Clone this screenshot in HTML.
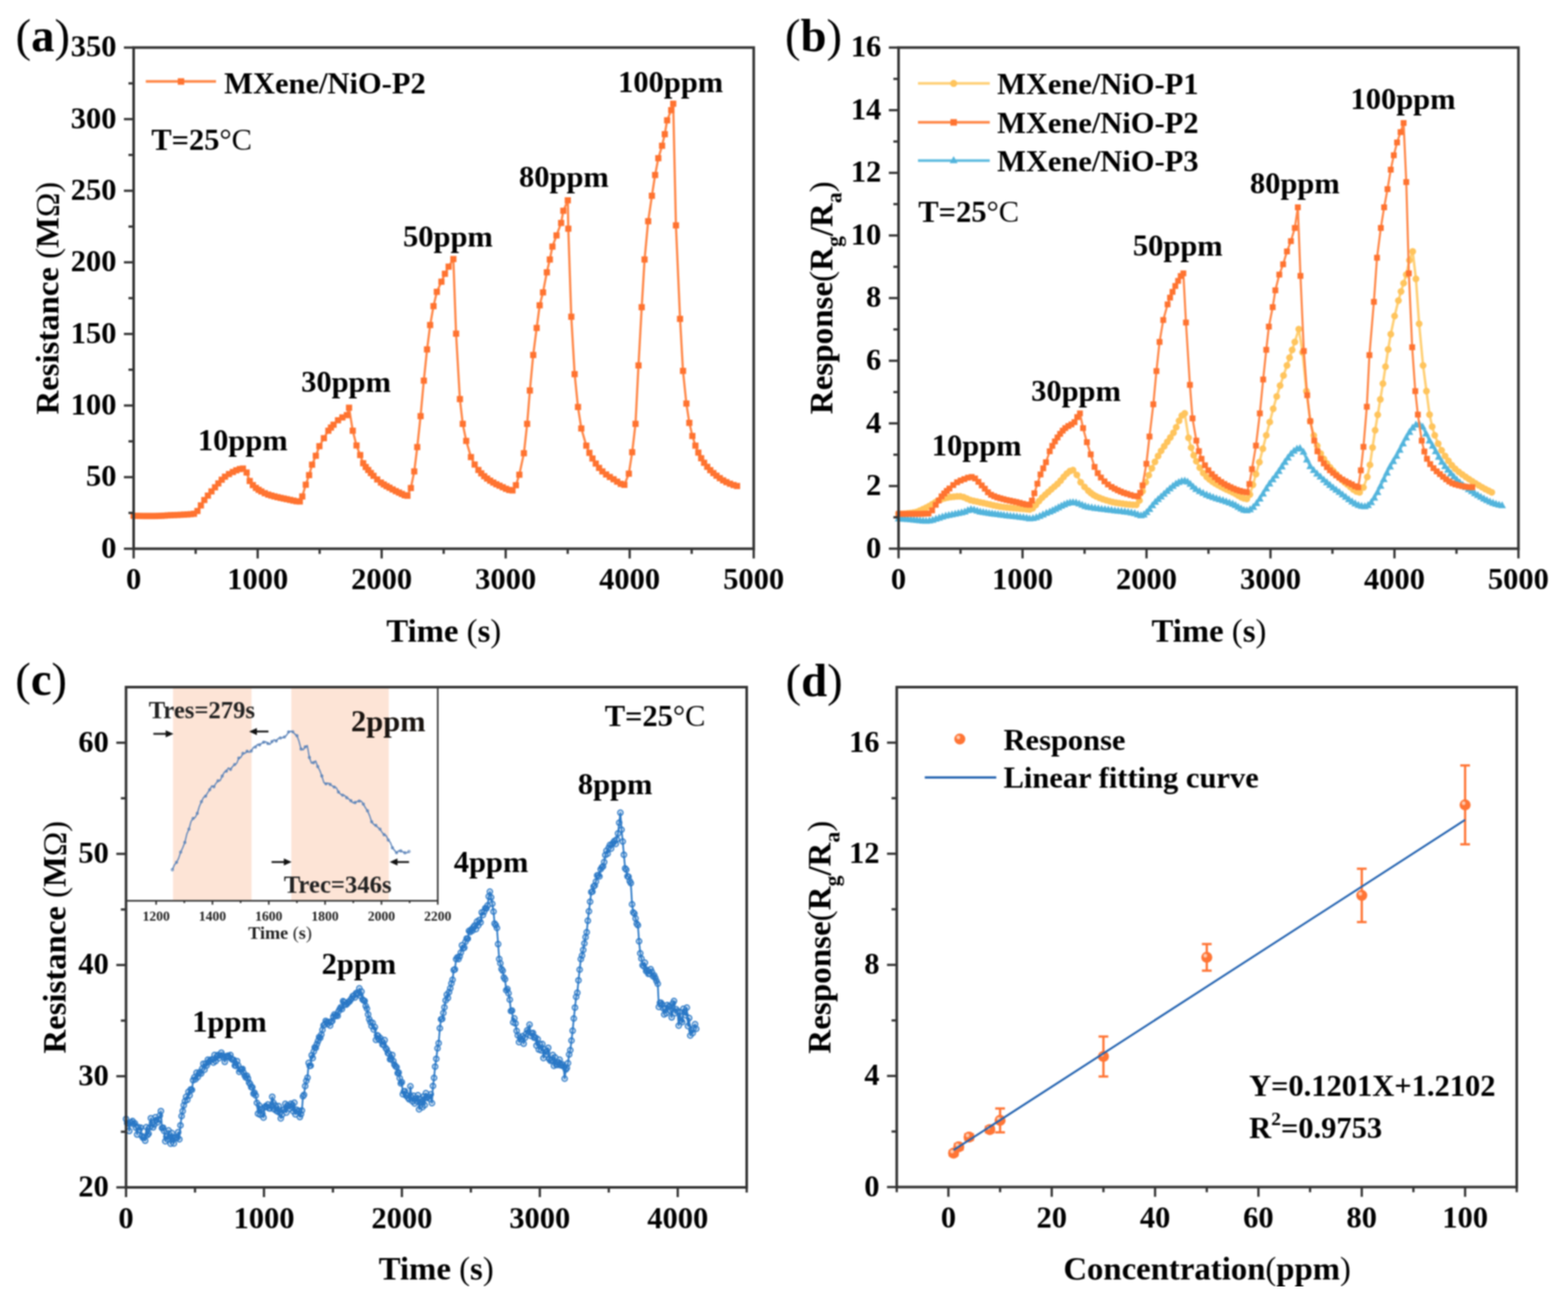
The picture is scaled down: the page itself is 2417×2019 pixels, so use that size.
<!DOCTYPE html>
<html><head><meta charset="utf-8"><style>
html,body{margin:0;padding:0;background:#fff;overflow:hidden;}
svg{display:block;}
text{font-family:"Liberation Serif","Times New Roman",serif;}
</style></head><body>
<svg width="2417" height="2019" viewBox="0 0 2417 2019">
<defs><filter id="soft" x="0" y="0" width="1" height="1" color-interpolation-filters="sRGB"><feGaussianBlur stdDeviation="1"/></filter></defs>
<rect width="2417" height="2019" fill="#fff"/>
<g filter="url(#soft)">
<polyline points="206,794.9 210.8,795.1 215.6,795.3 220.3,795.3 225.1,795.4 229.9,795.4 234.7,795.4 239.5,795.3 244.2,795.2 249,794.9 253.8,794.6 258.6,794.3 263.3,794.1 268.5,793.8 273.6,793.6 278.7,793.4 283.8,793.2 288.9,792.9 294,792.4 299.1,791.9 304.4,787.5 309.7,779 315,770.7 320.4,763.9 325.9,757.3 331.4,751 336.6,745.1 341.7,739.4 346.9,734.7 352.9,730.6 358.9,727.4 364.3,724.9 369.6,723 374.4,722.1 380.1,728.3 384.9,741.3 389.7,747.6 394.5,751.9 398.7,755 402.9,757.4 408.2,760.1 413.4,762.3 418.2,763.8 423,765.1 427.7,766.3 432.5,767.4 437.3,768.4 442.1,769.3 447.1,770.4 452.1,771.6 457.1,772.5 462.2,772.9 466,765.1 471.3,747.1 476.5,732.3 481.1,716.2 486.8,702.5 492.4,687.7 499.2,675.3 506.1,663.9 510.1,658.9 514.1,654.6 521,647.7 527.7,643.3 534.6,639.8 538,628.3 543.8,663.9 549.5,686.6 555.2,701.4 559.8,714 563.8,719.7 567.7,724.3 571.7,729.1 575.7,733.4 581.4,739 587.2,743.7 591.6,746.7 596,749.3 600.4,751.7 605.3,754.4 610.2,756.9 615.1,759.2 619.4,761.3 623.7,763.2 628.1,764 633.3,752.2 638.6,726.5 643.2,689 648.3,641.3 653.3,586.6 658.3,538.5 663.1,501 668.2,471.9 673.4,449.8 680.5,434.1 685.8,422 691.5,410.9 698.8,399.3 703,514.2 708.9,615.1 713.3,653.3 718.7,679.5 726,704.5 731.7,716 737.4,724.3 741.9,729.5 746.3,733.9 750.8,737.6 755.6,740.9 760.4,743.8 765.1,746.3 769.9,748.6 774.9,751 780,753.4 785,755.2 790,755.9 795.3,747.9 800.5,731.6 807.6,698.5 812.6,653.3 816.8,601.8 821.9,547.1 827.3,505.4 831.9,470.5 837,450.7 842.9,419.8 847.5,399.9 851.5,380.1 857.9,362.8 864.9,343.6 868.4,324.9 875.3,308.8 876,352.5 880.6,488.2 885.8,576.7 890.9,627.2 896.1,660.3 903.7,686.8 908.5,697.9 913.3,706.7 918.4,714.5 923.5,721.1 928.6,726.5 934.3,731.3 940.1,735.2 945.8,738.7 951.3,742.4 956.9,745.8 962.4,747.3 969.3,730.1 974.5,697 979.6,653.3 984.2,563.2 989.2,473.4 993.6,399.9 999.1,341 1004.9,301.7 1009.8,269.7 1014.8,243.9 1020.5,224.7 1024.7,206.8 1028.4,185.4 1034.7,169.7 1037.7,159.8 1041.9,347.4 1048.3,491.5 1052.8,571.6 1058,621.9 1062.6,651.7 1067.3,671.9 1072,686.8 1076.4,697.5 1080.9,706.3 1085.3,713.3 1090.1,719.4 1094.9,724.6 1099.7,729.2 1104.5,733.2 1109.5,737 1114.6,740.3 1119.7,743.1 1125.2,745.5 1130.7,747.5 1136.2,749" fill="none" stroke="#ff8646" stroke-width="3.4" stroke-linejoin="round"/>
<g fill="#ff7330"><rect x="201.2" y="790.2" width="9.5" height="9.5"/><rect x="206" y="790.4" width="9.5" height="9.5"/><rect x="210.8" y="790.5" width="9.5" height="9.5"/><rect x="215.6" y="790.6" width="9.5" height="9.5"/><rect x="220.4" y="790.6" width="9.5" height="9.5"/><rect x="225.1" y="790.6" width="9.5" height="9.5"/><rect x="229.9" y="790.6" width="9.5" height="9.5"/><rect x="234.7" y="790.6" width="9.5" height="9.5"/><rect x="239.5" y="790.4" width="9.5" height="9.5"/><rect x="244.3" y="790.2" width="9.5" height="9.5"/><rect x="249" y="789.9" width="9.5" height="9.5"/><rect x="253.8" y="789.6" width="9.5" height="9.5"/><rect x="258.6" y="789.3" width="9.5" height="9.5"/><rect x="263.7" y="789.1" width="9.5" height="9.5"/><rect x="268.8" y="788.9" width="9.5" height="9.5"/><rect x="273.9" y="788.7" width="9.5" height="9.5"/><rect x="279" y="788.4" width="9.5" height="9.5"/><rect x="284.1" y="788.1" width="9.5" height="9.5"/><rect x="289.2" y="787.7" width="9.5" height="9.5"/><rect x="294.3" y="787.1" width="9.5" height="9.5"/><rect x="299.6" y="782.8" width="9.5" height="9.5"/><rect x="304.9" y="774.2" width="9.5" height="9.5"/><rect x="310.2" y="765.9" width="9.5" height="9.5"/><rect x="315.7" y="759.1" width="9.5" height="9.5"/><rect x="321.2" y="752.6" width="9.5" height="9.5"/><rect x="326.7" y="746.3" width="9.5" height="9.5"/><rect x="331.8" y="740.3" width="9.5" height="9.5"/><rect x="337" y="734.6" width="9.5" height="9.5"/><rect x="342.1" y="729.9" width="9.5" height="9.5"/><rect x="348.2" y="725.9" width="9.5" height="9.5"/><rect x="354.2" y="722.7" width="9.5" height="9.5"/><rect x="359.5" y="720.1" width="9.5" height="9.5"/><rect x="364.9" y="718.2" width="9.5" height="9.5"/><rect x="369.7" y="717.4" width="9.5" height="9.5"/><rect x="375.4" y="723.5" width="9.5" height="9.5"/><rect x="380.2" y="736.6" width="9.5" height="9.5"/><rect x="385" y="742.9" width="9.5" height="9.5"/><rect x="389.7" y="747.2" width="9.5" height="9.5"/><rect x="393.9" y="750.2" width="9.5" height="9.5"/><rect x="398.1" y="752.7" width="9.5" height="9.5"/><rect x="403.4" y="755.4" width="9.5" height="9.5"/><rect x="408.7" y="757.5" width="9.5" height="9.5"/><rect x="413.4" y="759" width="9.5" height="9.5"/><rect x="418.2" y="760.3" width="9.5" height="9.5"/><rect x="423" y="761.5" width="9.5" height="9.5"/><rect x="427.8" y="762.6" width="9.5" height="9.5"/><rect x="432.6" y="763.6" width="9.5" height="9.5"/><rect x="437.3" y="764.6" width="9.5" height="9.5"/><rect x="442.4" y="765.7" width="9.5" height="9.5"/><rect x="447.4" y="766.8" width="9.5" height="9.5"/><rect x="452.4" y="767.8" width="9.5" height="9.5"/><rect x="457.4" y="768.1" width="9.5" height="9.5"/><rect x="461.2" y="760.4" width="9.5" height="9.5"/><rect x="466.6" y="742.3" width="9.5" height="9.5"/><rect x="471.7" y="727.5" width="9.5" height="9.5"/><rect x="476.3" y="711.4" width="9.5" height="9.5"/><rect x="482.1" y="697.7" width="9.5" height="9.5"/><rect x="487.6" y="682.9" width="9.5" height="9.5"/><rect x="494.5" y="670.6" width="9.5" height="9.5"/><rect x="501.4" y="659.1" width="9.5" height="9.5"/><rect x="505.4" y="654.2" width="9.5" height="9.5"/><rect x="509.4" y="649.8" width="9.5" height="9.5"/><rect x="516.3" y="643" width="9.5" height="9.5"/><rect x="523" y="638.6" width="9.5" height="9.5"/><rect x="529.9" y="635.1" width="9.5" height="9.5"/><rect x="533.3" y="623.6" width="9.5" height="9.5"/><rect x="539" y="659.1" width="9.5" height="9.5"/><rect x="544.8" y="681.8" width="9.5" height="9.5"/><rect x="550.5" y="696.6" width="9.5" height="9.5"/><rect x="555.1" y="709.2" width="9.5" height="9.5"/><rect x="559" y="715" width="9.5" height="9.5"/><rect x="562.9" y="719.6" width="9.5" height="9.5"/><rect x="566.9" y="724.3" width="9.5" height="9.5"/><rect x="571" y="728.6" width="9.5" height="9.5"/><rect x="576.7" y="734.2" width="9.5" height="9.5"/><rect x="582.4" y="739" width="9.5" height="9.5"/><rect x="586.8" y="741.9" width="9.5" height="9.5"/><rect x="591.2" y="744.5" width="9.5" height="9.5"/><rect x="595.6" y="746.9" width="9.5" height="9.5"/><rect x="600.5" y="749.6" width="9.5" height="9.5"/><rect x="605.4" y="752.2" width="9.5" height="9.5"/><rect x="610.3" y="754.4" width="9.5" height="9.5"/><rect x="614.7" y="756.5" width="9.5" height="9.5"/><rect x="619" y="758.5" width="9.5" height="9.5"/><rect x="623.3" y="759.3" width="9.5" height="9.5"/><rect x="628.6" y="747.4" width="9.5" height="9.5"/><rect x="633.8" y="721.8" width="9.5" height="9.5"/><rect x="638.4" y="684.3" width="9.5" height="9.5"/><rect x="643.6" y="636.6" width="9.5" height="9.5"/><rect x="648.6" y="581.9" width="9.5" height="9.5"/><rect x="653.5" y="533.8" width="9.5" height="9.5"/><rect x="658.3" y="496.2" width="9.5" height="9.5"/><rect x="663.5" y="467.1" width="9.5" height="9.5"/><rect x="668.6" y="445" width="9.5" height="9.5"/><rect x="675.7" y="429.4" width="9.5" height="9.5"/><rect x="681.1" y="417.2" width="9.5" height="9.5"/><rect x="686.8" y="406.2" width="9.5" height="9.5"/><rect x="694.1" y="394.5" width="9.5" height="9.5"/><rect x="698.3" y="509.5" width="9.5" height="9.5"/><rect x="704.2" y="610.3" width="9.5" height="9.5"/><rect x="708.6" y="648.5" width="9.5" height="9.5"/><rect x="713.9" y="674.8" width="9.5" height="9.5"/><rect x="721.2" y="699.7" width="9.5" height="9.5"/><rect x="726.9" y="711.2" width="9.5" height="9.5"/><rect x="732.7" y="719.6" width="9.5" height="9.5"/><rect x="737.1" y="724.8" width="9.5" height="9.5"/><rect x="741.6" y="729.2" width="9.5" height="9.5"/><rect x="746.1" y="732.8" width="9.5" height="9.5"/><rect x="750.8" y="736.1" width="9.5" height="9.5"/><rect x="755.6" y="739" width="9.5" height="9.5"/><rect x="760.4" y="741.6" width="9.5" height="9.5"/><rect x="765.2" y="743.8" width="9.5" height="9.5"/><rect x="770.2" y="746.2" width="9.5" height="9.5"/><rect x="775.2" y="748.6" width="9.5" height="9.5"/><rect x="780.2" y="750.4" width="9.5" height="9.5"/><rect x="785.2" y="751.1" width="9.5" height="9.5"/><rect x="790.5" y="743.1" width="9.5" height="9.5"/><rect x="795.8" y="726.9" width="9.5" height="9.5"/><rect x="802.8" y="693.8" width="9.5" height="9.5"/><rect x="807.8" y="648.5" width="9.5" height="9.5"/><rect x="812" y="597.1" width="9.5" height="9.5"/><rect x="817.2" y="542.4" width="9.5" height="9.5"/><rect x="822.5" y="500.7" width="9.5" height="9.5"/><rect x="827.1" y="465.8" width="9.5" height="9.5"/><rect x="832.3" y="445.9" width="9.5" height="9.5"/><rect x="838.2" y="415" width="9.5" height="9.5"/><rect x="842.8" y="395.2" width="9.5" height="9.5"/><rect x="846.8" y="375.3" width="9.5" height="9.5"/><rect x="853.1" y="358.1" width="9.5" height="9.5"/><rect x="860.2" y="338.9" width="9.5" height="9.5"/><rect x="863.6" y="320.1" width="9.5" height="9.5"/><rect x="870.5" y="304" width="9.5" height="9.5"/><rect x="871.3" y="347.7" width="9.5" height="9.5"/><rect x="875.9" y="483.4" width="9.5" height="9.5"/><rect x="881" y="571.9" width="9.5" height="9.5"/><rect x="886.2" y="622.5" width="9.5" height="9.5"/><rect x="891.3" y="655.6" width="9.5" height="9.5"/><rect x="899" y="682.1" width="9.5" height="9.5"/><rect x="903.8" y="693.2" width="9.5" height="9.5"/><rect x="908.5" y="701.9" width="9.5" height="9.5"/><rect x="913.6" y="709.7" width="9.5" height="9.5"/><rect x="918.7" y="716.4" width="9.5" height="9.5"/><rect x="923.8" y="721.8" width="9.5" height="9.5"/><rect x="929.6" y="726.5" width="9.5" height="9.5"/><rect x="935.3" y="730.4" width="9.5" height="9.5"/><rect x="941" y="733.9" width="9.5" height="9.5"/><rect x="946.6" y="737.6" width="9.5" height="9.5"/><rect x="952.1" y="741" width="9.5" height="9.5"/><rect x="957.7" y="742.5" width="9.5" height="9.5"/><rect x="964.6" y="725.3" width="9.5" height="9.5"/><rect x="969.7" y="692.2" width="9.5" height="9.5"/><rect x="974.9" y="648.5" width="9.5" height="9.5"/><rect x="979.5" y="558.5" width="9.5" height="9.5"/><rect x="984.4" y="468.7" width="9.5" height="9.5"/><rect x="988.8" y="395.2" width="9.5" height="9.5"/><rect x="994.4" y="336.2" width="9.5" height="9.5"/><rect x="1000.1" y="297" width="9.5" height="9.5"/><rect x="1005.1" y="265" width="9.5" height="9.5"/><rect x="1010" y="239.1" width="9.5" height="9.5"/><rect x="1015.8" y="219.9" width="9.5" height="9.5"/><rect x="1020" y="202.1" width="9.5" height="9.5"/><rect x="1023.6" y="180.7" width="9.5" height="9.5"/><rect x="1029.9" y="165" width="9.5" height="9.5"/><rect x="1033" y="155.1" width="9.5" height="9.5"/><rect x="1037.2" y="342.6" width="9.5" height="9.5"/><rect x="1043.5" y="486.7" width="9.5" height="9.5"/><rect x="1048.1" y="566.9" width="9.5" height="9.5"/><rect x="1053.3" y="617.2" width="9.5" height="9.5"/><rect x="1057.8" y="647" width="9.5" height="9.5"/><rect x="1062.5" y="667.2" width="9.5" height="9.5"/><rect x="1067.2" y="682.1" width="9.5" height="9.5"/><rect x="1071.7" y="692.8" width="9.5" height="9.5"/><rect x="1076.1" y="701.5" width="9.5" height="9.5"/><rect x="1080.6" y="708.5" width="9.5" height="9.5"/><rect x="1085.4" y="714.7" width="9.5" height="9.5"/><rect x="1090.1" y="719.9" width="9.5" height="9.5"/><rect x="1094.9" y="724.4" width="9.5" height="9.5"/><rect x="1099.7" y="728.4" width="9.5" height="9.5"/><rect x="1104.8" y="732.2" width="9.5" height="9.5"/><rect x="1109.9" y="735.6" width="9.5" height="9.5"/><rect x="1115" y="738.3" width="9.5" height="9.5"/><rect x="1120.5" y="740.8" width="9.5" height="9.5"/><rect x="1126" y="742.8" width="9.5" height="9.5"/><rect x="1131.4" y="744.3" width="9.5" height="9.5"/></g>
<rect x="206" y="73.3" width="955.8" height="772.4" fill="none" stroke="#333333" stroke-width="4"/>
<line x1="206" y1="845.7" x2="206" y2="860.7" stroke="#333333" stroke-width="3.5"/>
<text x="206" y="908.2" font-size="47" text-anchor="middle" font-weight="bold" fill="#000">0</text>
<line x1="397.2" y1="845.7" x2="397.2" y2="860.7" stroke="#333333" stroke-width="3.5"/>
<text x="397.2" y="908.2" font-size="47" text-anchor="middle" font-weight="bold" fill="#000">1000</text>
<line x1="588.3" y1="845.7" x2="588.3" y2="860.7" stroke="#333333" stroke-width="3.5"/>
<text x="588.3" y="908.2" font-size="47" text-anchor="middle" font-weight="bold" fill="#000">2000</text>
<line x1="779.5" y1="845.7" x2="779.5" y2="860.7" stroke="#333333" stroke-width="3.5"/>
<text x="779.5" y="908.2" font-size="47" text-anchor="middle" font-weight="bold" fill="#000">3000</text>
<line x1="970.6" y1="845.7" x2="970.6" y2="860.7" stroke="#333333" stroke-width="3.5"/>
<text x="970.6" y="908.2" font-size="47" text-anchor="middle" font-weight="bold" fill="#000">4000</text>
<line x1="1161.8" y1="845.7" x2="1161.8" y2="860.7" stroke="#333333" stroke-width="3.5"/>
<text x="1161.8" y="908.2" font-size="47" text-anchor="middle" font-weight="bold" fill="#000">5000</text>
<line x1="301.6" y1="845.7" x2="301.6" y2="853.7" stroke="#333333" stroke-width="3.5"/>
<line x1="492.7" y1="845.7" x2="492.7" y2="853.7" stroke="#333333" stroke-width="3.5"/>
<line x1="683.9" y1="845.7" x2="683.9" y2="853.7" stroke="#333333" stroke-width="3.5"/>
<line x1="875.1" y1="845.7" x2="875.1" y2="853.7" stroke="#333333" stroke-width="3.5"/>
<line x1="1066.2" y1="845.7" x2="1066.2" y2="853.7" stroke="#333333" stroke-width="3.5"/>
<line x1="191" y1="845.7" x2="206" y2="845.7" stroke="#333333" stroke-width="3.5"/>
<text x="179.5" y="859.7" font-size="47" text-anchor="end" font-weight="bold" fill="#000">0</text>
<line x1="191" y1="735.4" x2="206" y2="735.4" stroke="#333333" stroke-width="3.5"/>
<text x="179.5" y="749.4" font-size="47" text-anchor="end" font-weight="bold" fill="#000">50</text>
<line x1="191" y1="625" x2="206" y2="625" stroke="#333333" stroke-width="3.5"/>
<text x="179.5" y="639" font-size="47" text-anchor="end" font-weight="bold" fill="#000">100</text>
<line x1="191" y1="514.7" x2="206" y2="514.7" stroke="#333333" stroke-width="3.5"/>
<text x="179.5" y="528.7" font-size="47" text-anchor="end" font-weight="bold" fill="#000">150</text>
<line x1="191" y1="404.3" x2="206" y2="404.3" stroke="#333333" stroke-width="3.5"/>
<text x="179.5" y="418.3" font-size="47" text-anchor="end" font-weight="bold" fill="#000">200</text>
<line x1="191" y1="294" x2="206" y2="294" stroke="#333333" stroke-width="3.5"/>
<text x="179.5" y="308" font-size="47" text-anchor="end" font-weight="bold" fill="#000">250</text>
<line x1="191" y1="183.6" x2="206" y2="183.6" stroke="#333333" stroke-width="3.5"/>
<text x="179.5" y="197.6" font-size="47" text-anchor="end" font-weight="bold" fill="#000">300</text>
<line x1="191" y1="73.3" x2="206" y2="73.3" stroke="#333333" stroke-width="3.5"/>
<text x="179.5" y="87.3" font-size="47" text-anchor="end" font-weight="bold" fill="#000">350</text>
<line x1="198" y1="790.5" x2="206" y2="790.5" stroke="#333333" stroke-width="3.5"/>
<line x1="198" y1="680.2" x2="206" y2="680.2" stroke="#333333" stroke-width="3.5"/>
<line x1="198" y1="569.8" x2="206" y2="569.8" stroke="#333333" stroke-width="3.5"/>
<line x1="198" y1="459.5" x2="206" y2="459.5" stroke="#333333" stroke-width="3.5"/>
<line x1="198" y1="349.2" x2="206" y2="349.2" stroke="#333333" stroke-width="3.5"/>
<line x1="198" y1="238.8" x2="206" y2="238.8" stroke="#333333" stroke-width="3.5"/>
<line x1="198" y1="128.5" x2="206" y2="128.5" stroke="#333333" stroke-width="3.5"/>
<polyline points="1385.1,792 1389.7,791.9 1394.3,791.7 1398.9,791.2 1403.4,790.7 1408,790.1 1412.9,788.9 1417.8,787 1422.7,784.7 1427.5,782.4 1432.3,779.9 1437.1,777 1441.9,774 1446.6,771.3 1451.4,769.3 1456.1,767.9 1460.7,766.7 1465.4,766 1470.3,765.5 1475.2,765.1 1480.1,765 1485.4,766.2 1490.7,768.6 1495.9,770.8 1501,772 1506,773.1 1511,774.2 1516.1,775.3 1521.2,776.4 1526.4,777.6 1531.5,778.7 1536.6,779.7 1541.7,780.7 1546.8,781.4 1551.9,782 1557,782.5 1562.1,783 1567.2,783.4 1572.3,783.9 1577.4,784.3 1582.5,784.8 1587.1,785.3 1591.9,783.2 1596.7,778.3 1601.6,772.3 1606.4,766.9 1611.1,762.6 1615.9,758.3 1620.6,754.1 1625.4,749.9 1630.1,745.7 1634.9,740.7 1639.6,735.1 1644.4,729.9 1649.2,726 1654,724.4 1659.9,731.9 1665.8,743.3 1671.7,750.4 1677.5,756.3 1681.6,759.7 1685.6,762.7 1689.7,765 1694.8,767.2 1699.9,769.2 1705,770.9 1710.1,772.4 1715.2,773.7 1720.3,774.8 1725.4,775.6 1730.7,776.3 1735.9,777 1741.2,777.5 1746.4,777.9 1751.6,778 1756.4,771.4 1761.2,757.1 1766,743.3 1770.7,732.4 1775.5,721.8 1780.3,711.8 1785.1,702.7 1789.8,694.9 1794.6,687.8 1799.3,681 1804,674.3 1808.8,667 1813.1,658.4 1817.5,648.5 1821.8,640.4 1826.2,637.1 1832.1,674.7 1836.1,689.9 1840.1,701.7 1844.1,710.9 1849.4,720.9 1854.7,729 1860,735.1 1864.4,738.9 1868.8,742.2 1873.2,745 1877.6,747.6 1882,750 1886.5,752.4 1891,754.6 1895.6,756.6 1900.1,758.7 1904.5,761.1 1908.8,763.8 1913.2,766.3 1917.5,768.1 1921.9,768.9 1926.6,762.3 1931.3,747.2 1936,730.7 1941.3,712.2 1946.6,691.5 1951.9,670.9 1957.3,650.4 1962.6,630 1968,611 1973.2,594.3 1978.5,578.8 1983.8,563.2 1987.8,551.3 1991.8,539.3 1995.9,527 2002,507.2 2007.9,543 2013.8,602.8 2019.7,649.1 2025.1,671.1 2030.4,687.1 2035.8,698.9 2040.6,707.2 2045.4,714.2 2050.1,720.2 2054.9,725.6 2059.7,730.7 2064,735.2 2068.3,739.4 2072.6,743.2 2076.9,746.6 2081.6,750.6 2086.3,754.5 2091.1,757.5 2095.8,758.7 2101.7,751.3 2107.6,735.1 2111.7,716.4 2115.7,689.8 2119.7,663.1 2123.7,639.3 2127.7,615.5 2131.7,591.2 2135.7,565.1 2139.8,538.5 2143.8,515 2149.7,487.1 2155.6,463.3 2159.6,449.3 2163.6,436.4 2167.7,423.2 2172.6,401.1 2177.6,387.5 2182.6,429.8 2187.5,499 2193.6,563.2 2198.8,602.8 2203.6,639 2207.6,657.5 2211.6,670.9 2216.9,683.8 2222.2,694.1 2227.5,702.7 2232.7,710.3 2237.9,717 2243.1,722.5 2248.6,727.3 2254,731.3 2259.4,735.1 2264.4,738.4 2269.4,741.7 2274.4,744.9 2279.4,748 2284.5,750.9 2289.5,753.7 2294.5,756.3 2299.5,758.7" fill="none" stroke="#ffcf74" stroke-width="3.8" stroke-linejoin="round"/>
<g fill="#ffc45c"><circle cx="1385.1" cy="792" r="5.25"/><circle cx="1389.7" cy="791.9" r="5.25"/><circle cx="1394.3" cy="791.7" r="5.25"/><circle cx="1398.9" cy="791.2" r="5.25"/><circle cx="1403.4" cy="790.7" r="5.25"/><circle cx="1408" cy="790.1" r="5.25"/><circle cx="1412.9" cy="788.9" r="5.25"/><circle cx="1417.8" cy="787" r="5.25"/><circle cx="1422.7" cy="784.7" r="5.25"/><circle cx="1427.5" cy="782.4" r="5.25"/><circle cx="1432.3" cy="779.9" r="5.25"/><circle cx="1437.1" cy="777" r="5.25"/><circle cx="1441.9" cy="774" r="5.25"/><circle cx="1446.6" cy="771.3" r="5.25"/><circle cx="1451.4" cy="769.3" r="5.25"/><circle cx="1456.1" cy="767.9" r="5.25"/><circle cx="1460.7" cy="766.7" r="5.25"/><circle cx="1465.4" cy="766" r="5.25"/><circle cx="1470.3" cy="765.5" r="5.25"/><circle cx="1475.2" cy="765.1" r="5.25"/><circle cx="1480.1" cy="765" r="5.25"/><circle cx="1485.4" cy="766.2" r="5.25"/><circle cx="1490.7" cy="768.6" r="5.25"/><circle cx="1495.9" cy="770.8" r="5.25"/><circle cx="1501" cy="772" r="5.25"/><circle cx="1506" cy="773.1" r="5.25"/><circle cx="1511" cy="774.2" r="5.25"/><circle cx="1516.1" cy="775.3" r="5.25"/><circle cx="1521.2" cy="776.4" r="5.25"/><circle cx="1526.4" cy="777.6" r="5.25"/><circle cx="1531.5" cy="778.7" r="5.25"/><circle cx="1536.6" cy="779.7" r="5.25"/><circle cx="1541.7" cy="780.7" r="5.25"/><circle cx="1546.8" cy="781.4" r="5.25"/><circle cx="1551.9" cy="782" r="5.25"/><circle cx="1557" cy="782.5" r="5.25"/><circle cx="1562.1" cy="783" r="5.25"/><circle cx="1567.2" cy="783.4" r="5.25"/><circle cx="1572.3" cy="783.9" r="5.25"/><circle cx="1577.4" cy="784.3" r="5.25"/><circle cx="1582.5" cy="784.8" r="5.25"/><circle cx="1587.1" cy="785.3" r="5.25"/><circle cx="1591.9" cy="783.2" r="5.25"/><circle cx="1596.7" cy="778.3" r="5.25"/><circle cx="1601.6" cy="772.3" r="5.25"/><circle cx="1606.4" cy="766.9" r="5.25"/><circle cx="1611.1" cy="762.6" r="5.25"/><circle cx="1615.9" cy="758.3" r="5.25"/><circle cx="1620.6" cy="754.1" r="5.25"/><circle cx="1625.4" cy="749.9" r="5.25"/><circle cx="1630.1" cy="745.7" r="5.25"/><circle cx="1634.9" cy="740.7" r="5.25"/><circle cx="1639.6" cy="735.1" r="5.25"/><circle cx="1644.4" cy="729.9" r="5.25"/><circle cx="1649.2" cy="726" r="5.25"/><circle cx="1654" cy="724.4" r="5.25"/><circle cx="1659.9" cy="731.9" r="5.25"/><circle cx="1665.8" cy="743.3" r="5.25"/><circle cx="1671.7" cy="750.4" r="5.25"/><circle cx="1677.5" cy="756.3" r="5.25"/><circle cx="1681.6" cy="759.7" r="5.25"/><circle cx="1685.6" cy="762.7" r="5.25"/><circle cx="1689.7" cy="765" r="5.25"/><circle cx="1694.8" cy="767.2" r="5.25"/><circle cx="1699.9" cy="769.2" r="5.25"/><circle cx="1705" cy="770.9" r="5.25"/><circle cx="1710.1" cy="772.4" r="5.25"/><circle cx="1715.2" cy="773.7" r="5.25"/><circle cx="1720.3" cy="774.8" r="5.25"/><circle cx="1725.4" cy="775.6" r="5.25"/><circle cx="1730.7" cy="776.3" r="5.25"/><circle cx="1735.9" cy="777" r="5.25"/><circle cx="1741.2" cy="777.5" r="5.25"/><circle cx="1746.4" cy="777.9" r="5.25"/><circle cx="1751.6" cy="778" r="5.25"/><circle cx="1756.4" cy="771.4" r="5.25"/><circle cx="1761.2" cy="757.1" r="5.25"/><circle cx="1766" cy="743.3" r="5.25"/><circle cx="1770.7" cy="732.4" r="5.25"/><circle cx="1775.5" cy="721.8" r="5.25"/><circle cx="1780.3" cy="711.8" r="5.25"/><circle cx="1785.1" cy="702.7" r="5.25"/><circle cx="1789.8" cy="694.9" r="5.25"/><circle cx="1794.6" cy="687.8" r="5.25"/><circle cx="1799.3" cy="681" r="5.25"/><circle cx="1804" cy="674.3" r="5.25"/><circle cx="1808.8" cy="667" r="5.25"/><circle cx="1813.1" cy="658.4" r="5.25"/><circle cx="1817.5" cy="648.5" r="5.25"/><circle cx="1821.8" cy="640.4" r="5.25"/><circle cx="1826.2" cy="637.1" r="5.25"/><circle cx="1832.1" cy="674.7" r="5.25"/><circle cx="1836.1" cy="689.9" r="5.25"/><circle cx="1840.1" cy="701.7" r="5.25"/><circle cx="1844.1" cy="710.9" r="5.25"/><circle cx="1849.4" cy="720.9" r="5.25"/><circle cx="1854.7" cy="729" r="5.25"/><circle cx="1860" cy="735.1" r="5.25"/><circle cx="1864.4" cy="738.9" r="5.25"/><circle cx="1868.8" cy="742.2" r="5.25"/><circle cx="1873.2" cy="745" r="5.25"/><circle cx="1877.6" cy="747.6" r="5.25"/><circle cx="1882" cy="750" r="5.25"/><circle cx="1886.5" cy="752.4" r="5.25"/><circle cx="1891" cy="754.6" r="5.25"/><circle cx="1895.6" cy="756.6" r="5.25"/><circle cx="1900.1" cy="758.7" r="5.25"/><circle cx="1904.5" cy="761.1" r="5.25"/><circle cx="1908.8" cy="763.8" r="5.25"/><circle cx="1913.2" cy="766.3" r="5.25"/><circle cx="1917.5" cy="768.1" r="5.25"/><circle cx="1921.9" cy="768.9" r="5.25"/><circle cx="1926.6" cy="762.3" r="5.25"/><circle cx="1931.3" cy="747.2" r="5.25"/><circle cx="1936" cy="730.7" r="5.25"/><circle cx="1941.3" cy="712.2" r="5.25"/><circle cx="1946.6" cy="691.5" r="5.25"/><circle cx="1951.9" cy="670.9" r="5.25"/><circle cx="1957.3" cy="650.4" r="5.25"/><circle cx="1962.6" cy="630" r="5.25"/><circle cx="1968" cy="611" r="5.25"/><circle cx="1973.2" cy="594.3" r="5.25"/><circle cx="1978.5" cy="578.8" r="5.25"/><circle cx="1983.8" cy="563.2" r="5.25"/><circle cx="1987.8" cy="551.3" r="5.25"/><circle cx="1991.8" cy="539.3" r="5.25"/><circle cx="1995.9" cy="527" r="5.25"/><circle cx="2002" cy="507.2" r="5.25"/><circle cx="2007.9" cy="543" r="5.25"/><circle cx="2013.8" cy="602.8" r="5.25"/><circle cx="2019.7" cy="649.1" r="5.25"/><circle cx="2025.1" cy="671.1" r="5.25"/><circle cx="2030.4" cy="687.1" r="5.25"/><circle cx="2035.8" cy="698.9" r="5.25"/><circle cx="2040.6" cy="707.2" r="5.25"/><circle cx="2045.4" cy="714.2" r="5.25"/><circle cx="2050.1" cy="720.2" r="5.25"/><circle cx="2054.9" cy="725.6" r="5.25"/><circle cx="2059.7" cy="730.7" r="5.25"/><circle cx="2064" cy="735.2" r="5.25"/><circle cx="2068.3" cy="739.4" r="5.25"/><circle cx="2072.6" cy="743.2" r="5.25"/><circle cx="2076.9" cy="746.6" r="5.25"/><circle cx="2081.6" cy="750.6" r="5.25"/><circle cx="2086.3" cy="754.5" r="5.25"/><circle cx="2091.1" cy="757.5" r="5.25"/><circle cx="2095.8" cy="758.7" r="5.25"/><circle cx="2101.7" cy="751.3" r="5.25"/><circle cx="2107.6" cy="735.1" r="5.25"/><circle cx="2111.7" cy="716.4" r="5.25"/><circle cx="2115.7" cy="689.8" r="5.25"/><circle cx="2119.7" cy="663.1" r="5.25"/><circle cx="2123.7" cy="639.3" r="5.25"/><circle cx="2127.7" cy="615.5" r="5.25"/><circle cx="2131.7" cy="591.2" r="5.25"/><circle cx="2135.7" cy="565.1" r="5.25"/><circle cx="2139.8" cy="538.5" r="5.25"/><circle cx="2143.8" cy="515" r="5.25"/><circle cx="2149.7" cy="487.1" r="5.25"/><circle cx="2155.6" cy="463.3" r="5.25"/><circle cx="2159.6" cy="449.3" r="5.25"/><circle cx="2163.6" cy="436.4" r="5.25"/><circle cx="2167.7" cy="423.2" r="5.25"/><circle cx="2172.6" cy="401.1" r="5.25"/><circle cx="2177.6" cy="387.5" r="5.25"/><circle cx="2182.6" cy="429.8" r="5.25"/><circle cx="2187.5" cy="499" r="5.25"/><circle cx="2193.6" cy="563.2" r="5.25"/><circle cx="2198.8" cy="602.8" r="5.25"/><circle cx="2203.6" cy="639" r="5.25"/><circle cx="2207.6" cy="657.5" r="5.25"/><circle cx="2211.6" cy="670.9" r="5.25"/><circle cx="2216.9" cy="683.8" r="5.25"/><circle cx="2222.2" cy="694.1" r="5.25"/><circle cx="2227.5" cy="702.7" r="5.25"/><circle cx="2232.7" cy="710.3" r="5.25"/><circle cx="2237.9" cy="717" r="5.25"/><circle cx="2243.1" cy="722.5" r="5.25"/><circle cx="2248.6" cy="727.3" r="5.25"/><circle cx="2254" cy="731.3" r="5.25"/><circle cx="2259.4" cy="735.1" r="5.25"/><circle cx="2264.4" cy="738.4" r="5.25"/><circle cx="2269.4" cy="741.7" r="5.25"/><circle cx="2274.4" cy="744.9" r="5.25"/><circle cx="2279.4" cy="748" r="5.25"/><circle cx="2284.5" cy="750.9" r="5.25"/><circle cx="2289.5" cy="753.7" r="5.25"/><circle cx="2294.5" cy="756.3" r="5.25"/><circle cx="2299.5" cy="758.7" r="5.25"/></g>
<polyline points="1385.1,799.3 1389.9,799.6 1394.7,799.9 1399.4,800.3 1404.2,800.7 1408.9,801.2 1413.5,801.8 1418.2,802.3 1422.9,802.7 1427.5,802.9 1432.6,802.5 1437.6,801.3 1442.6,799.8 1447.7,798 1452.7,796.3 1457.7,794.9 1462.6,793.8 1467.5,792.9 1472.4,792 1477.3,791 1482.2,789.9 1487.1,788.6 1491.9,786.5 1496.7,785 1501.5,785.7 1506.3,787.3 1511,788.6 1515.6,789.5 1520.2,790.2 1524.7,790.9 1529.3,791.6 1533.8,792.2 1538.4,792.8 1543,793.4 1547.5,794 1552.5,794.6 1557.5,795.2 1562.5,795.7 1567.5,796.3 1572.5,796.9 1577.5,797.5 1582.5,798.3 1587.1,799.3 1592.3,798.7 1597.4,797.4 1602.6,795.4 1607.7,793.1 1612.9,790.8 1618.1,788.6 1622.5,786.7 1627,784.5 1631.5,782.1 1636,779.7 1640.5,777.6 1645,775.8 1649.5,774.6 1654,774.2 1658.7,774.8 1663.5,776.3 1668.2,778.2 1672.9,780.1 1677.7,781.4 1682.8,782.3 1687.9,783.1 1693,783.8 1698.1,784.4 1703.2,785 1708.3,785.6 1713.4,786.2 1718.5,786.9 1723.6,787.4 1728.7,788 1733.8,788.6 1738.9,789.3 1744,790.1 1749.1,791.1 1753.9,793 1758.7,794.4 1763.1,793.1 1767.5,789.5 1771.9,784.6 1776.3,779 1780.7,773.7 1785.1,769.3 1789.6,765.4 1794.2,761.3 1798.8,757 1803.3,752.9 1807.9,749.1 1812.5,745.8 1817,743.2 1821.6,741.5 1826.2,740.9 1830.6,742.4 1834.9,746 1839.3,750.3 1843.7,753.9 1849.2,757.1 1854.6,760 1860,762.6 1865,764.6 1870,766.5 1875,768.1 1880,769.7 1885.1,771.3 1890.1,772.9 1895.1,774.7 1900.1,776.6 1904.5,778.8 1908.8,781.4 1913.2,784 1917.5,785.9 1921.9,786.7 1926.9,785.3 1931.9,781.4 1936.9,775.7 1941.9,768.7 1946.9,760.9 1951.9,753 1956.8,745.5 1961.8,738.9 1966.5,732.9 1971.2,726.2 1975.9,719.1 1980.5,712 1985.2,705.4 1989.9,699.5 1994.5,694.9 1999.2,691.8 2003.9,690.7 2009.2,696.4 2014.5,708.4 2019.7,718.7 2025,724.8 2030.2,730.1 2035.4,734.8 2040.6,739.4 2045.4,743.6 2050.1,747.6 2054.9,751.4 2059.7,754.9 2064.6,758.4 2069.5,762.2 2074.4,766 2079.3,769.7 2084.2,773.1 2089.1,776.1 2094,778.4 2098.9,779.9 2103.8,780.4 2108.7,778.8 2113.6,774.2 2118.4,767.3 2123.3,758.7 2128.1,749 2133,738.8 2137.9,728.6 2142.7,719.1 2147.6,710.9 2152.6,702.7 2157.6,693.4 2162.6,683.7 2167.6,674.4 2172.6,666 2177.5,659.2 2182.5,654.7 2187.5,653 2192.9,657.8 2198.2,668.4 2203.6,679.1 2208.4,687.2 2213.1,695.7 2217.9,704.1 2222.7,711.9 2227.5,718.7 2232,724.3 2236.6,729.7 2241.1,734.7 2245.7,739.4 2250.3,743.7 2254.8,747.6 2259.4,751 2264,754.2 2268.7,757.3 2273.4,760.4 2278,763.3 2282.7,766 2287.4,768.6 2292,771 2296.7,773.2 2301.4,775.1 2306,776.7 2310.7,778 2315.4,779" fill="none" stroke="#5dbbe0" stroke-width="4" stroke-linejoin="round"/>
<g fill="#52b4dc"><path d="M1385.1 792.8L1391.1 803.6L1379.1 803.6Z"/><path d="M1389.9 793.1L1395.9 803.9L1383.9 803.9Z"/><path d="M1394.7 793.5L1400.7 804.3L1388.7 804.3Z"/><path d="M1399.4 793.8L1405.4 804.6L1393.4 804.6Z"/><path d="M1404.2 794.2L1410.2 805L1398.2 805Z"/><path d="M1408.9 794.7L1414.9 805.5L1402.9 805.5Z"/><path d="M1413.5 795.3L1419.5 806.1L1407.5 806.1Z"/><path d="M1418.2 795.8L1424.2 806.6L1412.2 806.6Z"/><path d="M1422.9 796.2L1428.9 807L1416.9 807Z"/><path d="M1427.5 796.4L1433.5 807.2L1421.5 807.2Z"/><path d="M1432.6 796L1438.6 806.8L1426.6 806.8Z"/><path d="M1437.6 794.9L1443.6 805.7L1431.6 805.7Z"/><path d="M1442.6 793.3L1448.6 804.1L1436.6 804.1Z"/><path d="M1447.7 791.6L1453.7 802.4L1441.7 802.4Z"/><path d="M1452.7 789.9L1458.7 800.7L1446.7 800.7Z"/><path d="M1457.7 788.4L1463.7 799.2L1451.7 799.2Z"/><path d="M1462.6 787.4L1468.6 798.2L1456.6 798.2Z"/><path d="M1467.5 786.4L1473.5 797.2L1461.5 797.2Z"/><path d="M1472.4 785.5L1478.4 796.3L1466.4 796.3Z"/><path d="M1477.3 784.5L1483.3 795.3L1471.3 795.3Z"/><path d="M1482.2 783.4L1488.2 794.2L1476.2 794.2Z"/><path d="M1487.1 782.2L1493.1 793L1481.1 793Z"/><path d="M1491.9 780L1497.9 790.8L1485.9 790.8Z"/><path d="M1496.7 778.5L1502.7 789.3L1490.7 789.3Z"/><path d="M1501.5 779.2L1507.5 790L1495.5 790Z"/><path d="M1506.3 780.8L1512.3 791.6L1500.3 791.6Z"/><path d="M1511 782.2L1517 793L1505 793Z"/><path d="M1515.6 783L1521.6 793.8L1509.6 793.8Z"/><path d="M1520.2 783.8L1526.2 794.6L1514.2 794.6Z"/><path d="M1524.7 784.4L1530.7 795.2L1518.7 795.2Z"/><path d="M1529.3 785.1L1535.3 795.9L1523.3 795.9Z"/><path d="M1533.8 785.7L1539.8 796.5L1527.8 796.5Z"/><path d="M1538.4 786.3L1544.4 797.1L1532.4 797.1Z"/><path d="M1543 786.9L1549 797.7L1537 797.7Z"/><path d="M1547.5 787.5L1553.5 798.3L1541.5 798.3Z"/><path d="M1552.5 788.1L1558.5 798.9L1546.5 798.9Z"/><path d="M1557.5 788.7L1563.5 799.5L1551.5 799.5Z"/><path d="M1562.5 789.2L1568.5 800L1556.5 800Z"/><path d="M1567.5 789.8L1573.5 800.6L1561.5 800.6Z"/><path d="M1572.5 790.4L1578.5 801.2L1566.5 801.2Z"/><path d="M1577.5 791L1583.5 801.8L1571.5 801.8Z"/><path d="M1582.5 791.8L1588.5 802.6L1576.5 802.6Z"/><path d="M1587.1 792.8L1593.1 803.6L1581.1 803.6Z"/><path d="M1592.3 792.3L1598.3 803.1L1586.3 803.1Z"/><path d="M1597.4 790.9L1603.4 801.7L1591.4 801.7Z"/><path d="M1602.6 788.9L1608.6 799.7L1596.6 799.7Z"/><path d="M1607.7 786.6L1613.7 797.4L1601.7 797.4Z"/><path d="M1612.9 784.3L1618.9 795.1L1606.9 795.1Z"/><path d="M1618.1 782.2L1624.1 793L1612.1 793Z"/><path d="M1622.5 780.3L1628.5 791.1L1616.5 791.1Z"/><path d="M1627 778L1633 788.8L1621 788.8Z"/><path d="M1631.5 775.6L1637.5 786.4L1625.5 786.4Z"/><path d="M1636 773.3L1642 784.1L1630 784.1Z"/><path d="M1640.5 771.1L1646.5 781.9L1634.5 781.9Z"/><path d="M1645 769.3L1651 780.1L1639 780.1Z"/><path d="M1649.5 768.1L1655.5 778.9L1643.5 778.9Z"/><path d="M1654 767.7L1660 778.5L1648 778.5Z"/><path d="M1658.7 768.3L1664.7 779.1L1652.7 779.1Z"/><path d="M1663.5 769.8L1669.5 780.6L1657.5 780.6Z"/><path d="M1668.2 771.7L1674.2 782.5L1662.2 782.5Z"/><path d="M1672.9 773.6L1678.9 784.4L1666.9 784.4Z"/><path d="M1677.7 774.9L1683.7 785.7L1671.7 785.7Z"/><path d="M1682.8 775.8L1688.8 786.6L1676.8 786.6Z"/><path d="M1687.9 776.6L1693.9 787.4L1681.9 787.4Z"/><path d="M1693 777.3L1699 788.1L1687 788.1Z"/><path d="M1698.1 777.9L1704.1 788.7L1692.1 788.7Z"/><path d="M1703.2 778.5L1709.2 789.3L1697.2 789.3Z"/><path d="M1708.3 779.1L1714.3 789.9L1702.3 789.9Z"/><path d="M1713.4 779.7L1719.4 790.5L1707.4 790.5Z"/><path d="M1718.5 780.4L1724.5 791.2L1712.5 791.2Z"/><path d="M1723.6 781L1729.6 791.8L1717.6 791.8Z"/><path d="M1728.7 781.5L1734.7 792.3L1722.7 792.3Z"/><path d="M1733.8 782.1L1739.8 792.9L1727.8 792.9Z"/><path d="M1738.9 782.8L1744.9 793.6L1732.9 793.6Z"/><path d="M1744 783.6L1750 794.4L1738 794.4Z"/><path d="M1749.1 784.6L1755.1 795.4L1743.1 795.4Z"/><path d="M1753.9 786.5L1759.9 797.3L1747.9 797.3Z"/><path d="M1758.7 788L1764.7 798.8L1752.7 798.8Z"/><path d="M1763.1 786.6L1769.1 797.4L1757.1 797.4Z"/><path d="M1767.5 783L1773.5 793.8L1761.5 793.8Z"/><path d="M1771.9 778.1L1777.9 788.9L1765.9 788.9Z"/><path d="M1776.3 772.5L1782.3 783.3L1770.3 783.3Z"/><path d="M1780.7 767.2L1786.7 778L1774.7 778Z"/><path d="M1785.1 762.9L1791.1 773.7L1779.1 773.7Z"/><path d="M1789.6 759L1795.6 769.8L1783.6 769.8Z"/><path d="M1794.2 754.8L1800.2 765.6L1788.2 765.6Z"/><path d="M1798.8 750.5L1804.8 761.3L1792.8 761.3Z"/><path d="M1803.3 746.4L1809.3 757.2L1797.3 757.2Z"/><path d="M1807.9 742.6L1813.9 753.4L1801.9 753.4Z"/><path d="M1812.5 739.3L1818.5 750.1L1806.5 750.1Z"/><path d="M1817 736.7L1823 747.5L1811 747.5Z"/><path d="M1821.6 735L1827.6 745.8L1815.6 745.8Z"/><path d="M1826.2 734.4L1832.2 745.2L1820.2 745.2Z"/><path d="M1830.6 735.9L1836.6 746.7L1824.6 746.7Z"/><path d="M1834.9 739.5L1840.9 750.3L1828.9 750.3Z"/><path d="M1839.3 743.8L1845.3 754.6L1833.3 754.6Z"/><path d="M1843.7 747.4L1849.7 758.2L1837.7 758.2Z"/><path d="M1849.2 750.6L1855.2 761.4L1843.2 761.4Z"/><path d="M1854.6 753.5L1860.6 764.3L1848.6 764.3Z"/><path d="M1860 756.1L1866 766.9L1854 766.9Z"/><path d="M1865 758.1L1871 768.9L1859 768.9Z"/><path d="M1870 760L1876 770.8L1864 770.8Z"/><path d="M1875 761.7L1881 772.5L1869 772.5Z"/><path d="M1880 763.3L1886 774.1L1874 774.1Z"/><path d="M1885.1 764.8L1891.1 775.6L1879.1 775.6Z"/><path d="M1890.1 766.4L1896.1 777.2L1884.1 777.2Z"/><path d="M1895.1 768.2L1901.1 779L1889.1 779Z"/><path d="M1900.1 770.1L1906.1 780.9L1894.1 780.9Z"/><path d="M1904.5 772.3L1910.5 783.1L1898.5 783.1Z"/><path d="M1908.8 774.9L1914.8 785.7L1902.8 785.7Z"/><path d="M1913.2 777.5L1919.2 788.3L1907.2 788.3Z"/><path d="M1917.5 779.5L1923.5 790.3L1911.5 790.3Z"/><path d="M1921.9 780.2L1927.9 791L1915.9 791Z"/><path d="M1926.9 778.8L1932.9 789.6L1920.9 789.6Z"/><path d="M1931.9 775L1937.9 785.8L1925.9 785.8Z"/><path d="M1936.9 769.2L1942.9 780L1930.9 780Z"/><path d="M1941.9 762.2L1947.9 773L1935.9 773Z"/><path d="M1946.9 754.4L1952.9 765.2L1940.9 765.2Z"/><path d="M1951.9 746.5L1957.9 757.3L1945.9 757.3Z"/><path d="M1956.8 739L1962.8 749.8L1950.8 749.8Z"/><path d="M1961.8 732.4L1967.8 743.2L1955.8 743.2Z"/><path d="M1966.5 726.5L1972.5 737.3L1960.5 737.3Z"/><path d="M1971.2 719.7L1977.2 730.5L1965.2 730.5Z"/><path d="M1975.9 712.6L1981.9 723.4L1969.9 723.4Z"/><path d="M1980.5 705.6L1986.5 716.4L1974.5 716.4Z"/><path d="M1985.2 698.9L1991.2 709.7L1979.2 709.7Z"/><path d="M1989.9 693L1995.9 703.8L1983.9 703.8Z"/><path d="M1994.5 688.4L2000.5 699.2L1988.5 699.2Z"/><path d="M1999.2 685.3L2005.2 696.1L1993.2 696.1Z"/><path d="M2003.9 684.2L2009.9 695L1997.9 695Z"/><path d="M2009.2 689.9L2015.2 700.7L2003.2 700.7Z"/><path d="M2014.5 701.9L2020.5 712.7L2008.5 712.7Z"/><path d="M2019.7 712.2L2025.7 723L2013.7 723Z"/><path d="M2025 718.3L2031 729.1L2019 729.1Z"/><path d="M2030.2 723.6L2036.2 734.4L2024.2 734.4Z"/><path d="M2035.4 728.3L2041.4 739.1L2029.4 739.1Z"/><path d="M2040.6 732.9L2046.6 743.7L2034.6 743.7Z"/><path d="M2045.4 737.1L2051.4 747.9L2039.4 747.9Z"/><path d="M2050.1 741.1L2056.1 751.9L2044.1 751.9Z"/><path d="M2054.9 744.9L2060.9 755.7L2048.9 755.7Z"/><path d="M2059.7 748.4L2065.7 759.2L2053.7 759.2Z"/><path d="M2064.6 751.9L2070.6 762.7L2058.6 762.7Z"/><path d="M2069.5 755.7L2075.5 766.5L2063.5 766.5Z"/><path d="M2074.4 759.5L2080.4 770.3L2068.4 770.3Z"/><path d="M2079.3 763.2L2085.3 774L2073.3 774Z"/><path d="M2084.2 766.6L2090.2 777.4L2078.2 777.4Z"/><path d="M2089.1 769.6L2095.1 780.4L2083.1 780.4Z"/><path d="M2094 771.9L2100 782.7L2088 782.7Z"/><path d="M2098.9 773.4L2104.9 784.2L2092.9 784.2Z"/><path d="M2103.8 774L2109.8 784.8L2097.8 784.8Z"/><path d="M2108.7 772.3L2114.7 783.1L2102.7 783.1Z"/><path d="M2113.6 767.7L2119.6 778.5L2107.6 778.5Z"/><path d="M2118.4 760.8L2124.4 771.6L2112.4 771.6Z"/><path d="M2123.3 752.2L2129.3 763L2117.3 763Z"/><path d="M2128.1 742.5L2134.1 753.3L2122.1 753.3Z"/><path d="M2133 732.3L2139 743.1L2127 743.1Z"/><path d="M2137.9 722.1L2143.9 732.9L2131.9 732.9Z"/><path d="M2142.7 712.7L2148.7 723.5L2136.7 723.5Z"/><path d="M2147.6 704.5L2153.6 715.3L2141.6 715.3Z"/><path d="M2152.6 696.2L2158.6 707L2146.6 707Z"/><path d="M2157.6 686.9L2163.6 697.7L2151.6 697.7Z"/><path d="M2162.6 677.3L2168.6 688.1L2156.6 688.1Z"/><path d="M2167.6 667.9L2173.6 678.7L2161.6 678.7Z"/><path d="M2172.6 659.5L2178.6 670.3L2166.6 670.3Z"/><path d="M2177.5 652.7L2183.5 663.5L2171.5 663.5Z"/><path d="M2182.5 648.2L2188.5 659L2176.5 659Z"/><path d="M2187.5 646.5L2193.5 657.3L2181.5 657.3Z"/><path d="M2192.9 651.3L2198.9 662.1L2186.9 662.1Z"/><path d="M2198.2 661.9L2204.2 672.7L2192.2 672.7Z"/><path d="M2203.6 672.6L2209.6 683.4L2197.6 683.4Z"/><path d="M2208.4 680.7L2214.4 691.5L2202.4 691.5Z"/><path d="M2213.1 689.2L2219.1 700L2207.1 700Z"/><path d="M2217.9 697.6L2223.9 708.4L2211.9 708.4Z"/><path d="M2222.7 705.4L2228.7 716.2L2216.7 716.2Z"/><path d="M2227.5 712.2L2233.5 723L2221.5 723Z"/><path d="M2232 717.8L2238 728.6L2226 728.6Z"/><path d="M2236.6 723.2L2242.6 734L2230.6 734Z"/><path d="M2241.1 728.3L2247.1 739.1L2235.1 739.1Z"/><path d="M2245.7 733L2251.7 743.8L2239.7 743.8Z"/><path d="M2250.3 737.3L2256.3 748.1L2244.3 748.1Z"/><path d="M2254.8 741.1L2260.8 751.9L2248.8 751.9Z"/><path d="M2259.4 744.5L2265.4 755.3L2253.4 755.3Z"/><path d="M2264 747.7L2270 758.5L2258 758.5Z"/><path d="M2268.7 750.8L2274.7 761.6L2262.7 761.6Z"/><path d="M2273.4 753.9L2279.4 764.7L2267.4 764.7Z"/><path d="M2278 756.8L2284 767.6L2272 767.6Z"/><path d="M2282.7 759.5L2288.7 770.3L2276.7 770.3Z"/><path d="M2287.4 762.1L2293.4 772.9L2281.4 772.9Z"/><path d="M2292 764.5L2298 775.3L2286 775.3Z"/><path d="M2296.7 766.7L2302.7 777.5L2290.7 777.5Z"/><path d="M2301.4 768.6L2307.4 779.4L2295.4 779.4Z"/><path d="M2306 770.2L2312 781L2300 781Z"/><path d="M2310.7 771.5L2316.7 782.3L2304.7 782.3Z"/><path d="M2315.4 772.5L2321.4 783.3L2309.4 783.3Z"/></g>
<polyline points="1385.1,792 1389.7,792 1394.3,792 1398.9,792 1403.4,792 1408,792 1412.7,792 1417.3,792 1421.9,791.9 1426.5,791.7 1431.2,791.5 1436.8,786.6 1442.4,778 1446.9,771.4 1451.4,765 1455.4,760.5 1459.4,756.6 1463.5,752.9 1469.4,747.6 1475.3,743.3 1480.8,740.6 1486.4,738.4 1492.1,736.2 1497.8,735.1 1503,737.4 1508.2,742.6 1513.3,748.1 1518.1,753.2 1522.9,758.7 1527.7,762.6 1532.4,764.8 1537.2,766.6 1542,768 1546.8,769.3 1551.7,770.6 1556.7,771.6 1561.7,772.7 1566.6,773.7 1571.8,775 1576.9,776.4 1582,777.6 1587.1,778 1590.7,771.5 1594.4,760.2 1599.1,745.5 1603.9,731.2 1608.1,721.8 1612.3,712.4 1618.1,695.5 1622.1,687.2 1626.1,680.3 1630.1,674.2 1634.1,668.7 1638.1,663.8 1642.1,659.8 1646.8,656.6 1651.6,654.1 1656.3,650.6 1660.5,642.8 1664.7,637.1 1669.5,659.8 1675.4,681.5 1681.3,700.3 1687.2,719.6 1692.1,729.2 1697,736 1702.5,741.9 1707.9,746.7 1713.4,750.5 1718.2,753.2 1723,755.6 1727.7,757.7 1732.5,759.6 1737.3,761.1 1742.8,762.9 1748.4,764.4 1753.9,765 1757.6,759.6 1761.2,748.1 1767.1,714.8 1771.9,672.8 1777.8,623.1 1782.6,571.9 1787.4,527 1793.1,493.2 1799.8,469.1 1803.6,458.7 1807.4,449.8 1811.7,440.8 1816,432.9 1820,425.4 1824.1,421.3 1828.1,497.1 1834.2,593.2 1838.2,644.8 1844.1,679.1 1848.1,695.3 1852.1,707.1 1857.4,717.1 1862.7,724.8 1868,730.7 1872.8,735.3 1877.6,739.4 1882.5,742.9 1887.3,745.9 1892.1,748.6 1896.9,750.9 1901.6,753.1 1906.4,755 1911.2,756.5 1916,757.8 1921.9,758.7 1925.9,746 1929.9,723 1936,686.8 1942,637.1 1947.1,584.9 1951.9,539.1 1955.9,503.4 1961.8,473.4 1965.9,447.4 1972,423.2 1977.9,407.3 1983.8,387.5 1989.9,371.6 1995.9,351.3 2000.6,319.5 2004.6,425.2 2009.8,541 2015,609.1 2019.7,649.1 2025.9,679.1 2030.8,695.6 2035.8,707.1 2040.6,714.2 2045.4,720 2050.1,724.8 2054.9,728.9 2059.7,732.7 2064.5,736.1 2069.3,739.1 2074.1,741.8 2078.9,744.3 2083.8,746.6 2088.7,749.4 2093.7,751 2097.7,724.9 2101.7,688.7 2106.9,626.9 2110.9,547.3 2117.8,465.2 2122.6,397.2 2128.5,351.3 2133.6,319.5 2138.8,291.5 2143.8,261.5 2148.5,239.3 2153.5,219.6 2158.9,203.6 2163.6,189.6 2167.7,280.6 2171.7,421.3 2176.8,535.2 2181.6,602.8 2185.6,639 2191.5,679.1 2195.6,695.9 2199.6,707.1 2204.6,715.3 2209.6,721.5 2214.6,726.4 2219.6,730.7 2224.4,734.8 2229.2,738.7 2234,742.1 2238.7,744.8 2243.5,746.6 2248.7,748 2253.9,749.2 2259.1,750.1 2264.3,750.8 2269.5,751" fill="none" stroke="#ff8646" stroke-width="3.2" stroke-linejoin="round"/>
<g fill="#ff7330"><rect x="1380.6" y="787.5" width="9" height="9"/><rect x="1385.2" y="787.5" width="9" height="9"/><rect x="1389.8" y="787.5" width="9" height="9"/><rect x="1394.4" y="787.5" width="9" height="9"/><rect x="1398.9" y="787.5" width="9" height="9"/><rect x="1403.5" y="787.5" width="9" height="9"/><rect x="1408.2" y="787.5" width="9" height="9"/><rect x="1412.8" y="787.5" width="9" height="9"/><rect x="1417.4" y="787.4" width="9" height="9"/><rect x="1422" y="787.2" width="9" height="9"/><rect x="1426.7" y="787" width="9" height="9"/><rect x="1432.3" y="782.1" width="9" height="9"/><rect x="1437.9" y="773.5" width="9" height="9"/><rect x="1442.4" y="766.9" width="9" height="9"/><rect x="1446.9" y="760.5" width="9" height="9"/><rect x="1450.9" y="756" width="9" height="9"/><rect x="1454.9" y="752.1" width="9" height="9"/><rect x="1459" y="748.4" width="9" height="9"/><rect x="1464.9" y="743.1" width="9" height="9"/><rect x="1470.8" y="738.8" width="9" height="9"/><rect x="1476.3" y="736.1" width="9" height="9"/><rect x="1481.9" y="733.9" width="9" height="9"/><rect x="1487.6" y="731.7" width="9" height="9"/><rect x="1493.3" y="730.6" width="9" height="9"/><rect x="1498.5" y="732.9" width="9" height="9"/><rect x="1503.7" y="738.1" width="9" height="9"/><rect x="1508.8" y="743.6" width="9" height="9"/><rect x="1513.6" y="748.7" width="9" height="9"/><rect x="1518.4" y="754.2" width="9" height="9"/><rect x="1523.2" y="758.1" width="9" height="9"/><rect x="1527.9" y="760.3" width="9" height="9"/><rect x="1532.7" y="762.1" width="9" height="9"/><rect x="1537.5" y="763.5" width="9" height="9"/><rect x="1542.3" y="764.8" width="9" height="9"/><rect x="1547.2" y="766.1" width="9" height="9"/><rect x="1552.2" y="767.1" width="9" height="9"/><rect x="1557.2" y="768.2" width="9" height="9"/><rect x="1562.1" y="769.2" width="9" height="9"/><rect x="1567.3" y="770.5" width="9" height="9"/><rect x="1572.4" y="771.9" width="9" height="9"/><rect x="1577.5" y="773.1" width="9" height="9"/><rect x="1582.6" y="773.5" width="9" height="9"/><rect x="1586.2" y="767" width="9" height="9"/><rect x="1589.9" y="755.7" width="9" height="9"/><rect x="1594.6" y="741" width="9" height="9"/><rect x="1599.4" y="726.7" width="9" height="9"/><rect x="1603.6" y="717.3" width="9" height="9"/><rect x="1607.8" y="707.9" width="9" height="9"/><rect x="1613.6" y="691" width="9" height="9"/><rect x="1617.6" y="682.7" width="9" height="9"/><rect x="1621.6" y="675.8" width="9" height="9"/><rect x="1625.6" y="669.7" width="9" height="9"/><rect x="1629.6" y="664.2" width="9" height="9"/><rect x="1633.6" y="659.3" width="9" height="9"/><rect x="1637.6" y="655.3" width="9" height="9"/><rect x="1642.3" y="652.1" width="9" height="9"/><rect x="1647.1" y="649.6" width="9" height="9"/><rect x="1651.8" y="646.1" width="9" height="9"/><rect x="1656" y="638.3" width="9" height="9"/><rect x="1660.2" y="632.6" width="9" height="9"/><rect x="1665" y="655.3" width="9" height="9"/><rect x="1670.9" y="677" width="9" height="9"/><rect x="1676.8" y="695.8" width="9" height="9"/><rect x="1682.7" y="715.1" width="9" height="9"/><rect x="1687.6" y="724.7" width="9" height="9"/><rect x="1692.5" y="731.5" width="9" height="9"/><rect x="1698" y="737.4" width="9" height="9"/><rect x="1703.4" y="742.2" width="9" height="9"/><rect x="1708.9" y="746" width="9" height="9"/><rect x="1713.7" y="748.7" width="9" height="9"/><rect x="1718.5" y="751.1" width="9" height="9"/><rect x="1723.2" y="753.2" width="9" height="9"/><rect x="1728" y="755.1" width="9" height="9"/><rect x="1732.8" y="756.6" width="9" height="9"/><rect x="1738.3" y="758.4" width="9" height="9"/><rect x="1743.9" y="759.9" width="9" height="9"/><rect x="1749.4" y="760.5" width="9" height="9"/><rect x="1753.1" y="755.1" width="9" height="9"/><rect x="1756.7" y="743.6" width="9" height="9"/><rect x="1762.6" y="710.3" width="9" height="9"/><rect x="1767.4" y="668.3" width="9" height="9"/><rect x="1773.3" y="618.6" width="9" height="9"/><rect x="1778.1" y="567.4" width="9" height="9"/><rect x="1782.9" y="522.5" width="9" height="9"/><rect x="1788.6" y="488.7" width="9" height="9"/><rect x="1795.3" y="464.6" width="9" height="9"/><rect x="1799.1" y="454.2" width="9" height="9"/><rect x="1802.9" y="445.3" width="9" height="9"/><rect x="1807.2" y="436.3" width="9" height="9"/><rect x="1811.5" y="428.4" width="9" height="9"/><rect x="1815.5" y="420.9" width="9" height="9"/><rect x="1819.6" y="416.8" width="9" height="9"/><rect x="1823.6" y="492.6" width="9" height="9"/><rect x="1829.7" y="588.7" width="9" height="9"/><rect x="1833.7" y="640.3" width="9" height="9"/><rect x="1839.6" y="674.6" width="9" height="9"/><rect x="1843.6" y="690.8" width="9" height="9"/><rect x="1847.6" y="702.6" width="9" height="9"/><rect x="1852.9" y="712.6" width="9" height="9"/><rect x="1858.2" y="720.3" width="9" height="9"/><rect x="1863.5" y="726.2" width="9" height="9"/><rect x="1868.3" y="730.8" width="9" height="9"/><rect x="1873.1" y="734.9" width="9" height="9"/><rect x="1878" y="738.4" width="9" height="9"/><rect x="1882.8" y="741.4" width="9" height="9"/><rect x="1887.6" y="744.1" width="9" height="9"/><rect x="1892.4" y="746.4" width="9" height="9"/><rect x="1897.1" y="748.6" width="9" height="9"/><rect x="1901.9" y="750.5" width="9" height="9"/><rect x="1906.7" y="752" width="9" height="9"/><rect x="1911.5" y="753.3" width="9" height="9"/><rect x="1917.4" y="754.2" width="9" height="9"/><rect x="1921.4" y="741.5" width="9" height="9"/><rect x="1925.4" y="718.5" width="9" height="9"/><rect x="1931.5" y="682.3" width="9" height="9"/><rect x="1937.5" y="632.6" width="9" height="9"/><rect x="1942.6" y="580.4" width="9" height="9"/><rect x="1947.4" y="534.6" width="9" height="9"/><rect x="1951.4" y="498.9" width="9" height="9"/><rect x="1957.3" y="468.9" width="9" height="9"/><rect x="1961.4" y="442.9" width="9" height="9"/><rect x="1967.5" y="418.7" width="9" height="9"/><rect x="1973.4" y="402.8" width="9" height="9"/><rect x="1979.3" y="383" width="9" height="9"/><rect x="1985.4" y="367.1" width="9" height="9"/><rect x="1991.4" y="346.8" width="9" height="9"/><rect x="1996.1" y="315" width="9" height="9"/><rect x="2000.1" y="420.7" width="9" height="9"/><rect x="2005.3" y="536.5" width="9" height="9"/><rect x="2010.5" y="604.6" width="9" height="9"/><rect x="2015.2" y="644.6" width="9" height="9"/><rect x="2021.4" y="674.6" width="9" height="9"/><rect x="2026.3" y="691.1" width="9" height="9"/><rect x="2031.3" y="702.6" width="9" height="9"/><rect x="2036.1" y="709.7" width="9" height="9"/><rect x="2040.9" y="715.5" width="9" height="9"/><rect x="2045.6" y="720.3" width="9" height="9"/><rect x="2050.4" y="724.4" width="9" height="9"/><rect x="2055.2" y="728.2" width="9" height="9"/><rect x="2060" y="731.6" width="9" height="9"/><rect x="2064.8" y="734.6" width="9" height="9"/><rect x="2069.6" y="737.3" width="9" height="9"/><rect x="2074.4" y="739.8" width="9" height="9"/><rect x="2079.3" y="742.1" width="9" height="9"/><rect x="2084.2" y="744.9" width="9" height="9"/><rect x="2089.2" y="746.5" width="9" height="9"/><rect x="2093.2" y="720.4" width="9" height="9"/><rect x="2097.2" y="684.2" width="9" height="9"/><rect x="2102.4" y="622.4" width="9" height="9"/><rect x="2106.4" y="542.8" width="9" height="9"/><rect x="2113.3" y="460.7" width="9" height="9"/><rect x="2118.1" y="392.7" width="9" height="9"/><rect x="2124" y="346.8" width="9" height="9"/><rect x="2129.1" y="315" width="9" height="9"/><rect x="2134.3" y="287" width="9" height="9"/><rect x="2139.3" y="257" width="9" height="9"/><rect x="2144" y="234.8" width="9" height="9"/><rect x="2149" y="215.1" width="9" height="9"/><rect x="2154.4" y="199.1" width="9" height="9"/><rect x="2159.1" y="185.1" width="9" height="9"/><rect x="2163.2" y="276.1" width="9" height="9"/><rect x="2167.2" y="416.8" width="9" height="9"/><rect x="2172.3" y="530.7" width="9" height="9"/><rect x="2177.1" y="598.3" width="9" height="9"/><rect x="2181.1" y="634.5" width="9" height="9"/><rect x="2187" y="674.6" width="9" height="9"/><rect x="2191.1" y="691.4" width="9" height="9"/><rect x="2195.1" y="702.6" width="9" height="9"/><rect x="2200.1" y="710.8" width="9" height="9"/><rect x="2205.1" y="717" width="9" height="9"/><rect x="2210.1" y="721.9" width="9" height="9"/><rect x="2215.1" y="726.2" width="9" height="9"/><rect x="2219.9" y="730.3" width="9" height="9"/><rect x="2224.7" y="734.2" width="9" height="9"/><rect x="2229.5" y="737.6" width="9" height="9"/><rect x="2234.2" y="740.3" width="9" height="9"/><rect x="2239" y="742.1" width="9" height="9"/><rect x="2244.2" y="743.5" width="9" height="9"/><rect x="2249.4" y="744.7" width="9" height="9"/><rect x="2254.6" y="745.6" width="9" height="9"/><rect x="2259.8" y="746.3" width="9" height="9"/><rect x="2265" y="746.5" width="9" height="9"/></g>
<rect x="1385.1" y="73.3" width="955.5" height="772.3" fill="none" stroke="#333333" stroke-width="4"/>
<line x1="1385.1" y1="845.6" x2="1385.1" y2="860.6" stroke="#333333" stroke-width="3.5"/>
<text x="1385.1" y="908.1" font-size="47" text-anchor="middle" font-weight="bold" fill="#000">0</text>
<line x1="1576.2" y1="845.6" x2="1576.2" y2="860.6" stroke="#333333" stroke-width="3.5"/>
<text x="1576.2" y="908.1" font-size="47" text-anchor="middle" font-weight="bold" fill="#000">1000</text>
<line x1="1767.3" y1="845.6" x2="1767.3" y2="860.6" stroke="#333333" stroke-width="3.5"/>
<text x="1767.3" y="908.1" font-size="47" text-anchor="middle" font-weight="bold" fill="#000">2000</text>
<line x1="1958.4" y1="845.6" x2="1958.4" y2="860.6" stroke="#333333" stroke-width="3.5"/>
<text x="1958.4" y="908.1" font-size="47" text-anchor="middle" font-weight="bold" fill="#000">3000</text>
<line x1="2149.5" y1="845.6" x2="2149.5" y2="860.6" stroke="#333333" stroke-width="3.5"/>
<text x="2149.5" y="908.1" font-size="47" text-anchor="middle" font-weight="bold" fill="#000">4000</text>
<line x1="2340.6" y1="845.6" x2="2340.6" y2="860.6" stroke="#333333" stroke-width="3.5"/>
<text x="2340.6" y="908.1" font-size="47" text-anchor="middle" font-weight="bold" fill="#000">5000</text>
<line x1="1480.6" y1="845.6" x2="1480.6" y2="853.6" stroke="#333333" stroke-width="3.5"/>
<line x1="1671.8" y1="845.6" x2="1671.8" y2="853.6" stroke="#333333" stroke-width="3.5"/>
<line x1="1862.8" y1="845.6" x2="1862.8" y2="853.6" stroke="#333333" stroke-width="3.5"/>
<line x1="2053.9" y1="845.6" x2="2053.9" y2="853.6" stroke="#333333" stroke-width="3.5"/>
<line x1="2245.1" y1="845.6" x2="2245.1" y2="853.6" stroke="#333333" stroke-width="3.5"/>
<line x1="1370.1" y1="845.6" x2="1385.1" y2="845.6" stroke="#333333" stroke-width="3.5"/>
<text x="1358.6" y="859.6" font-size="47" text-anchor="end" font-weight="bold" fill="#000">0</text>
<line x1="1370.1" y1="749.1" x2="1385.1" y2="749.1" stroke="#333333" stroke-width="3.5"/>
<text x="1358.6" y="763.1" font-size="47" text-anchor="end" font-weight="bold" fill="#000">2</text>
<line x1="1370.1" y1="652.5" x2="1385.1" y2="652.5" stroke="#333333" stroke-width="3.5"/>
<text x="1358.6" y="666.5" font-size="47" text-anchor="end" font-weight="bold" fill="#000">4</text>
<line x1="1370.1" y1="556" x2="1385.1" y2="556" stroke="#333333" stroke-width="3.5"/>
<text x="1358.6" y="570" font-size="47" text-anchor="end" font-weight="bold" fill="#000">6</text>
<line x1="1370.1" y1="459.4" x2="1385.1" y2="459.4" stroke="#333333" stroke-width="3.5"/>
<text x="1358.6" y="473.4" font-size="47" text-anchor="end" font-weight="bold" fill="#000">8</text>
<line x1="1370.1" y1="362.9" x2="1385.1" y2="362.9" stroke="#333333" stroke-width="3.5"/>
<text x="1358.6" y="376.9" font-size="47" text-anchor="end" font-weight="bold" fill="#000">10</text>
<line x1="1370.1" y1="266.4" x2="1385.1" y2="266.4" stroke="#333333" stroke-width="3.5"/>
<text x="1358.6" y="280.4" font-size="47" text-anchor="end" font-weight="bold" fill="#000">12</text>
<line x1="1370.1" y1="169.8" x2="1385.1" y2="169.8" stroke="#333333" stroke-width="3.5"/>
<text x="1358.6" y="183.8" font-size="47" text-anchor="end" font-weight="bold" fill="#000">14</text>
<line x1="1370.1" y1="73.3" x2="1385.1" y2="73.3" stroke="#333333" stroke-width="3.5"/>
<text x="1358.6" y="87.3" font-size="47" text-anchor="end" font-weight="bold" fill="#000">16</text>
<line x1="1377.1" y1="797.3" x2="1385.1" y2="797.3" stroke="#333333" stroke-width="3.5"/>
<line x1="1377.1" y1="700.8" x2="1385.1" y2="700.8" stroke="#333333" stroke-width="3.5"/>
<line x1="1377.1" y1="604.3" x2="1385.1" y2="604.3" stroke="#333333" stroke-width="3.5"/>
<line x1="1377.1" y1="507.7" x2="1385.1" y2="507.7" stroke="#333333" stroke-width="3.5"/>
<line x1="1377.1" y1="411.2" x2="1385.1" y2="411.2" stroke="#333333" stroke-width="3.5"/>
<line x1="1377.1" y1="314.6" x2="1385.1" y2="314.6" stroke="#333333" stroke-width="3.5"/>
<line x1="1377.1" y1="218.1" x2="1385.1" y2="218.1" stroke="#333333" stroke-width="3.5"/>
<line x1="1377.1" y1="121.6" x2="1385.1" y2="121.6" stroke="#333333" stroke-width="3.5"/>
<rect x="266.7" y="1059.0" width="121.1" height="329.3" fill="#fde4d6"/>
<rect x="449.1" y="1059.0" width="150.2" height="329.3" fill="#fde4d6"/>
<polyline points="194.3,1724.6 196,1731.1 197.6,1730.9 199.3,1743.1 201,1730.3 202.6,1730 204.3,1727.8 206.1,1732.7 207.9,1731.3 209.6,1738.2 211.4,1748.6 213.2,1737.2 215,1741.1 216.8,1737.9 218.5,1750.8 220.3,1753.6 222,1753.1 223.8,1758.1 225.6,1737.3 227.3,1749.4 229.1,1747.2 230.8,1737.6 232.6,1723.4 234.3,1730.5 236,1737.6 237.8,1733.4 239.5,1722.1 241.2,1726.3 243,1729.7 244.7,1725.4 246.4,1719.2 248,1712.4 249.7,1738.6 251.4,1737.9 253.1,1743.3 254.8,1758.9 256.4,1751.9 258.1,1755.7 259.8,1742.3 261.5,1752.1 263.1,1762.8 264.8,1746.2 266.4,1753.1 268,1762.5 269.7,1753.7 271.3,1752.8 273,1754 274.7,1744.9 276.4,1755.9 278.2,1734.4 279.9,1720.3 281.6,1712.4 283.3,1703.6 285.1,1697.3 286.9,1690.5 288.7,1695.1 290.5,1682.7 292.3,1688.1 294.1,1678.9 295.9,1679.7 297.7,1664.9 299.5,1660.5 301.3,1663.4 303,1653.3 304.8,1660 306.5,1654.5 308.2,1652.2 310,1654.6 311.7,1647 313.5,1639.4 315.2,1648.7 316.9,1639.8 318.7,1642.1 320.4,1633.3 322.1,1636.6 323.8,1634.3 325.6,1632.9 327.3,1633 329,1637.8 330.7,1626.1 332.4,1635.4 334.2,1628.3 335.9,1626.1 337.6,1631 339.4,1626.8 341.2,1622.4 342.9,1626.4 344.7,1629.3 346.5,1636.6 348.3,1629 350.1,1627.4 351.8,1627 353.5,1629.4 355.2,1626.1 356.9,1632.2 358.6,1633.4 360.3,1633.6 362,1642.3 363.7,1642.7 365.4,1635.4 367.1,1642 368.8,1651.9 370.5,1649 372.1,1648.2 373.8,1647.4 375.5,1653.3 377.2,1657.8 378.9,1660.7 380.5,1657.9 382.2,1662 383.9,1668.4 385.6,1670.8 387.3,1675.7 389,1675.7 390.7,1685.6 392.4,1684.3 394.2,1688.5 396,1699.7 397.7,1716.4 399.5,1703.8 401.1,1718.1 402.8,1709.4 404.5,1716.7 406.2,1722.4 407.9,1706.7 409.5,1704.8 411.2,1706 412.9,1702.3 414.6,1708.2 416.3,1708.5 417.9,1704.7 419.6,1690.4 421.2,1699.2 422.9,1710 424.5,1703.5 426.2,1712.2 427.9,1713.2 429.5,1704.7 431.2,1715.3 432.8,1723.8 434.6,1718.2 436.3,1710.7 438.1,1709.9 439.8,1701.3 441.5,1714.7 443.3,1703.6 445,1705.1 446.8,1708.7 448.5,1701.1 450.2,1703.2 452,1712.8 453.7,1699.5 455.4,1717.5 457.1,1710.3 458.8,1712.9 460.5,1711.8 462.2,1721.6 463.9,1717.2 465.4,1711.5 467,1689.7 468.6,1687.4 470.4,1673.9 472.2,1665.7 474,1661 475.8,1638.3 477.3,1642.7 478.9,1642.5 480.5,1626.4 482,1630.8 483.6,1620.7 485.1,1614.3 486.8,1615 488.5,1609.1 490.2,1604.6 491.9,1598.4 493.6,1599.7 495.3,1594.5 497,1587.2 498.7,1580.3 500.4,1579.5 502.1,1573.4 503.8,1575.4 505.4,1578.2 507.1,1575.1 508.8,1580.7 510.5,1575 512.2,1573.5 513.8,1566.8 515.5,1563.5 517.2,1566.1 518.8,1564.2 520.5,1565.8 522.1,1558.4 523.8,1555 525.4,1552.4 527.1,1555.2 528.8,1543.1 530.4,1544.5 532.1,1548 533.7,1548.5 535.4,1546.8 537.1,1544.1 538.7,1543.8 540.4,1541 542,1538.8 543.7,1535.3 545.3,1534.6 547,1537.4 548.8,1530.7 550.6,1529.9 552.3,1531.2 553.9,1523.3 555.6,1534.6 557.2,1528.3 558.9,1540.5 560.5,1542 562.2,1542.7 563.8,1550.6 565.6,1554.5 567.4,1563.4 569.2,1570.9 571,1575.3 572.7,1581.3 574.4,1576.5 576.1,1586.8 577.8,1583 579.5,1602.8 581.2,1595.6 582.9,1596.6 584.6,1602.6 586.2,1600 587.9,1604.2 589.6,1610 591.2,1609.7 592.9,1603.1 594.5,1615.2 596.2,1617.6 597.9,1623.1 599.5,1623.9 601.2,1632.6 602.9,1632.1 604.6,1625.9 606.3,1635.2 608,1640.9 609.7,1643.4 611.4,1644.7 613,1653.9 614.6,1653.1 616.2,1661.7 617.8,1669.7 619.4,1667.9 621,1686.4 622.6,1682.3 624.3,1681.7 625.9,1688.6 627.6,1688.2 629.2,1692.2 630.9,1694.4 632.6,1674.3 634.2,1691 635.9,1697.4 637.5,1688.7 639.2,1700.8 640.8,1693.2 642.5,1697.3 644.2,1688 646,1709.7 647.7,1693.6 649.5,1697.8 651.2,1706.4 653,1689.9 654.7,1703.2 656.5,1684.7 658.4,1692.1 660.3,1690.2 662.2,1693.7 664.1,1686.4 665.8,1700.3 667.4,1673.8 669.1,1661.2 670.7,1643.9 672.5,1631.9 674.4,1615.7 676.2,1607.7 678,1584.7 679.8,1571 681.6,1570.4 683.4,1561.2 685.1,1552.5 686.9,1541.9 688.7,1533 690.4,1538.1 692.2,1529.1 694,1523.3 695.8,1515.8 697.6,1510 699.4,1495.1 701.2,1494.1 703.1,1478.2 704.9,1475.5 706.7,1478.2 708.5,1473.9 710.3,1468.3 712.1,1456.9 713.9,1461.7 715.7,1460.6 717.5,1451.5 719.3,1446.4 721.1,1446.8 722.9,1434.7 724.6,1436.6 726.4,1432.6 728.2,1434.4 730,1428.5 731.8,1426.2 733.6,1431.9 735.4,1420.2 737.2,1426.3 739,1417.9 740.8,1421.6 742.6,1406.3 744.4,1410.3 746.2,1405.3 748,1399.8 749.8,1400.3 751.6,1395.6 753.4,1381.6 755.1,1374.3 757,1383.1 758.8,1393 760.7,1405 762.4,1423.4 764.2,1425.9 766,1430.2 767.8,1455.1 769.5,1478.1 771.3,1484.8 773.1,1493.5 774.9,1496.1 776.7,1506.5 778.5,1509.3 780.3,1526.3 782.1,1524.3 783.9,1531 785.8,1540.7 787.5,1558.3 789.3,1557.6 791.1,1575.8 792.8,1569.5 794.6,1577.4 796.4,1588.7 798.2,1595.8 800,1606.3 801.8,1599.2 803.6,1601.9 805.4,1597 807.2,1608.6 809,1599.7 810.8,1593.6 812.6,1588 814.5,1590.2 816.3,1579.3 818.1,1596.4 819.8,1592.9 821.6,1592.1 823.4,1599.5 825.2,1598.9 827,1611.4 828.8,1601.5 830.5,1617.6 832.3,1609.5 834.1,1619 835.9,1609 837.7,1630.7 839.5,1617.6 841.3,1625.1 843.2,1621 845,1614.9 846.8,1632.6 848.5,1635 850.3,1633.8 852.1,1626 853.9,1642.7 855.7,1629.8 857.5,1641.1 859.2,1641.5 861,1637.3 862.6,1633.2 864.1,1641.9 865.7,1642.3 867.2,1640.6 868.8,1643.7 870.4,1662.5 872.1,1648.5 873.8,1646.1 875.5,1638.5 877.3,1625.2 879.1,1618.5 880.9,1603.7 882.7,1588.6 884.5,1569.7 886.3,1552.9 888.1,1536.5 889.9,1530.1 891.7,1510.9 893.5,1494.5 895.3,1478.2 897.2,1472.7 899,1464.1 900.8,1454 902.6,1444.4 904.4,1436.7 906.1,1419.1 907.8,1404.5 909.6,1389.7 911.4,1374.9 913.2,1374.3 915,1366.2 916.8,1364.8 918.6,1358.7 920.4,1349.2 922.2,1348.8 924,1350.7 925.9,1339.7 927.7,1336.8 929.5,1335.4 931.3,1328.6 933,1317.9 934.8,1311.3 936.6,1315.7 938.4,1306.4 940.2,1302.3 941.9,1307.9 943.7,1300.7 945.5,1298.4 947.3,1295.9 949.1,1300.7 950.9,1293.6 952.6,1284.6 954.5,1268.1 956.3,1252.6 958.1,1278.8 959.9,1297 961.7,1317.4 963.6,1338.4 965.4,1340.5 967.2,1350.6 968.9,1351.2 970.7,1358.1 972.4,1361.1 974.3,1393.8 976.1,1406.2 977.9,1408 979.7,1415.6 981.5,1423.7 983.3,1426 985.1,1450.7 986.9,1469.2 988.7,1477.4 990.5,1487.7 992.3,1489.3 994.1,1483.7 995.9,1496.6 997.6,1495.1 999.4,1500.9 1001.2,1500.4 1003,1493.8 1004.7,1497.7 1006.6,1504.7 1008.4,1503.3 1010.2,1507.6 1012,1512 1013.9,1516.2 1015.6,1552 1017.2,1545.5 1018.9,1545.5 1020.5,1547.9 1022.1,1553.9 1023.8,1563.5 1025.4,1555 1027.1,1561.7 1028.7,1549.1 1030.4,1551.7 1032,1550.5 1033.6,1558.4 1035.4,1568.1 1037.2,1546.4 1038.9,1542.7 1040.7,1561.4 1042.5,1555.5 1044.3,1558.6 1046.2,1580.7 1048,1559.5 1049.8,1572.8 1051.6,1575.3 1053.4,1554.8 1055.1,1559.9 1056.9,1564.8 1058.7,1553 1060.5,1581.4 1062.3,1569.1 1064,1596 1065.9,1588 1067.7,1592.3 1069.5,1584.8 1071.4,1578.5 1073.2,1585.8" fill="none" stroke="#2a78c6" stroke-width="2.6" stroke-linejoin="round"/>
<g fill="none" stroke="#2a78c6" stroke-width="2"><circle cx="194.3" cy="1724.6" r="4.0"/><circle cx="196" cy="1731.1" r="4.0"/><circle cx="197.6" cy="1730.9" r="4.0"/><circle cx="199.3" cy="1743.1" r="4.0"/><circle cx="201" cy="1730.3" r="4.0"/><circle cx="202.6" cy="1730" r="4.0"/><circle cx="204.3" cy="1727.8" r="4.0"/><circle cx="206.1" cy="1732.7" r="4.0"/><circle cx="207.9" cy="1731.3" r="4.0"/><circle cx="209.6" cy="1738.2" r="4.0"/><circle cx="211.4" cy="1748.6" r="4.0"/><circle cx="213.2" cy="1737.2" r="4.0"/><circle cx="215" cy="1741.1" r="4.0"/><circle cx="216.8" cy="1737.9" r="4.0"/><circle cx="218.5" cy="1750.8" r="4.0"/><circle cx="220.3" cy="1753.6" r="4.0"/><circle cx="222" cy="1753.1" r="4.0"/><circle cx="223.8" cy="1758.1" r="4.0"/><circle cx="225.6" cy="1737.3" r="4.0"/><circle cx="227.3" cy="1749.4" r="4.0"/><circle cx="229.1" cy="1747.2" r="4.0"/><circle cx="230.8" cy="1737.6" r="4.0"/><circle cx="232.6" cy="1723.4" r="4.0"/><circle cx="234.3" cy="1730.5" r="4.0"/><circle cx="236" cy="1737.6" r="4.0"/><circle cx="237.8" cy="1733.4" r="4.0"/><circle cx="239.5" cy="1722.1" r="4.0"/><circle cx="241.2" cy="1726.3" r="4.0"/><circle cx="243" cy="1729.7" r="4.0"/><circle cx="244.7" cy="1725.4" r="4.0"/><circle cx="246.4" cy="1719.2" r="4.0"/><circle cx="248" cy="1712.4" r="4.0"/><circle cx="249.7" cy="1738.6" r="4.0"/><circle cx="251.4" cy="1737.9" r="4.0"/><circle cx="253.1" cy="1743.3" r="4.0"/><circle cx="254.8" cy="1758.9" r="4.0"/><circle cx="256.4" cy="1751.9" r="4.0"/><circle cx="258.1" cy="1755.7" r="4.0"/><circle cx="259.8" cy="1742.3" r="4.0"/><circle cx="261.5" cy="1752.1" r="4.0"/><circle cx="263.1" cy="1762.8" r="4.0"/><circle cx="264.8" cy="1746.2" r="4.0"/><circle cx="266.4" cy="1753.1" r="4.0"/><circle cx="268" cy="1762.5" r="4.0"/><circle cx="269.7" cy="1753.7" r="4.0"/><circle cx="271.3" cy="1752.8" r="4.0"/><circle cx="273" cy="1754" r="4.0"/><circle cx="274.7" cy="1744.9" r="4.0"/><circle cx="276.4" cy="1755.9" r="4.0"/><circle cx="278.2" cy="1734.4" r="4.0"/><circle cx="279.9" cy="1720.3" r="4.0"/><circle cx="281.6" cy="1712.4" r="4.0"/><circle cx="283.3" cy="1703.6" r="4.0"/><circle cx="285.1" cy="1697.3" r="4.0"/><circle cx="286.9" cy="1690.5" r="4.0"/><circle cx="288.7" cy="1695.1" r="4.0"/><circle cx="290.5" cy="1682.7" r="4.0"/><circle cx="292.3" cy="1688.1" r="4.0"/><circle cx="294.1" cy="1678.9" r="4.0"/><circle cx="295.9" cy="1679.7" r="4.0"/><circle cx="297.7" cy="1664.9" r="4.0"/><circle cx="299.5" cy="1660.5" r="4.0"/><circle cx="301.3" cy="1663.4" r="4.0"/><circle cx="303" cy="1653.3" r="4.0"/><circle cx="304.8" cy="1660" r="4.0"/><circle cx="306.5" cy="1654.5" r="4.0"/><circle cx="308.2" cy="1652.2" r="4.0"/><circle cx="310" cy="1654.6" r="4.0"/><circle cx="311.7" cy="1647" r="4.0"/><circle cx="313.5" cy="1639.4" r="4.0"/><circle cx="315.2" cy="1648.7" r="4.0"/><circle cx="316.9" cy="1639.8" r="4.0"/><circle cx="318.7" cy="1642.1" r="4.0"/><circle cx="320.4" cy="1633.3" r="4.0"/><circle cx="322.1" cy="1636.6" r="4.0"/><circle cx="323.8" cy="1634.3" r="4.0"/><circle cx="325.6" cy="1632.9" r="4.0"/><circle cx="327.3" cy="1633" r="4.0"/><circle cx="329" cy="1637.8" r="4.0"/><circle cx="330.7" cy="1626.1" r="4.0"/><circle cx="332.4" cy="1635.4" r="4.0"/><circle cx="334.2" cy="1628.3" r="4.0"/><circle cx="335.9" cy="1626.1" r="4.0"/><circle cx="337.6" cy="1631" r="4.0"/><circle cx="339.4" cy="1626.8" r="4.0"/><circle cx="341.2" cy="1622.4" r="4.0"/><circle cx="342.9" cy="1626.4" r="4.0"/><circle cx="344.7" cy="1629.3" r="4.0"/><circle cx="346.5" cy="1636.6" r="4.0"/><circle cx="348.3" cy="1629" r="4.0"/><circle cx="350.1" cy="1627.4" r="4.0"/><circle cx="351.8" cy="1627" r="4.0"/><circle cx="353.5" cy="1629.4" r="4.0"/><circle cx="355.2" cy="1626.1" r="4.0"/><circle cx="356.9" cy="1632.2" r="4.0"/><circle cx="358.6" cy="1633.4" r="4.0"/><circle cx="360.3" cy="1633.6" r="4.0"/><circle cx="362" cy="1642.3" r="4.0"/><circle cx="363.7" cy="1642.7" r="4.0"/><circle cx="365.4" cy="1635.4" r="4.0"/><circle cx="367.1" cy="1642" r="4.0"/><circle cx="368.8" cy="1651.9" r="4.0"/><circle cx="370.5" cy="1649" r="4.0"/><circle cx="372.1" cy="1648.2" r="4.0"/><circle cx="373.8" cy="1647.4" r="4.0"/><circle cx="375.5" cy="1653.3" r="4.0"/><circle cx="377.2" cy="1657.8" r="4.0"/><circle cx="378.9" cy="1660.7" r="4.0"/><circle cx="380.5" cy="1657.9" r="4.0"/><circle cx="382.2" cy="1662" r="4.0"/><circle cx="383.9" cy="1668.4" r="4.0"/><circle cx="385.6" cy="1670.8" r="4.0"/><circle cx="387.3" cy="1675.7" r="4.0"/><circle cx="389" cy="1675.7" r="4.0"/><circle cx="390.7" cy="1685.6" r="4.0"/><circle cx="392.4" cy="1684.3" r="4.0"/><circle cx="394.2" cy="1688.5" r="4.0"/><circle cx="396" cy="1699.7" r="4.0"/><circle cx="397.7" cy="1716.4" r="4.0"/><circle cx="399.5" cy="1703.8" r="4.0"/><circle cx="401.1" cy="1718.1" r="4.0"/><circle cx="402.8" cy="1709.4" r="4.0"/><circle cx="404.5" cy="1716.7" r="4.0"/><circle cx="406.2" cy="1722.4" r="4.0"/><circle cx="407.9" cy="1706.7" r="4.0"/><circle cx="409.5" cy="1704.8" r="4.0"/><circle cx="411.2" cy="1706" r="4.0"/><circle cx="412.9" cy="1702.3" r="4.0"/><circle cx="414.6" cy="1708.2" r="4.0"/><circle cx="416.3" cy="1708.5" r="4.0"/><circle cx="417.9" cy="1704.7" r="4.0"/><circle cx="419.6" cy="1690.4" r="4.0"/><circle cx="421.2" cy="1699.2" r="4.0"/><circle cx="422.9" cy="1710" r="4.0"/><circle cx="424.5" cy="1703.5" r="4.0"/><circle cx="426.2" cy="1712.2" r="4.0"/><circle cx="427.9" cy="1713.2" r="4.0"/><circle cx="429.5" cy="1704.7" r="4.0"/><circle cx="431.2" cy="1715.3" r="4.0"/><circle cx="432.8" cy="1723.8" r="4.0"/><circle cx="434.6" cy="1718.2" r="4.0"/><circle cx="436.3" cy="1710.7" r="4.0"/><circle cx="438.1" cy="1709.9" r="4.0"/><circle cx="439.8" cy="1701.3" r="4.0"/><circle cx="441.5" cy="1714.7" r="4.0"/><circle cx="443.3" cy="1703.6" r="4.0"/><circle cx="445" cy="1705.1" r="4.0"/><circle cx="446.8" cy="1708.7" r="4.0"/><circle cx="448.5" cy="1701.1" r="4.0"/><circle cx="450.2" cy="1703.2" r="4.0"/><circle cx="452" cy="1712.8" r="4.0"/><circle cx="453.7" cy="1699.5" r="4.0"/><circle cx="455.4" cy="1717.5" r="4.0"/><circle cx="457.1" cy="1710.3" r="4.0"/><circle cx="458.8" cy="1712.9" r="4.0"/><circle cx="460.5" cy="1711.8" r="4.0"/><circle cx="462.2" cy="1721.6" r="4.0"/><circle cx="463.9" cy="1717.2" r="4.0"/><circle cx="465.4" cy="1711.5" r="4.0"/><circle cx="467" cy="1689.7" r="4.0"/><circle cx="468.6" cy="1687.4" r="4.0"/><circle cx="470.4" cy="1673.9" r="4.0"/><circle cx="472.2" cy="1665.7" r="4.0"/><circle cx="474" cy="1661" r="4.0"/><circle cx="475.8" cy="1638.3" r="4.0"/><circle cx="477.3" cy="1642.7" r="4.0"/><circle cx="478.9" cy="1642.5" r="4.0"/><circle cx="480.5" cy="1626.4" r="4.0"/><circle cx="482" cy="1630.8" r="4.0"/><circle cx="483.6" cy="1620.7" r="4.0"/><circle cx="485.1" cy="1614.3" r="4.0"/><circle cx="486.8" cy="1615" r="4.0"/><circle cx="488.5" cy="1609.1" r="4.0"/><circle cx="490.2" cy="1604.6" r="4.0"/><circle cx="491.9" cy="1598.4" r="4.0"/><circle cx="493.6" cy="1599.7" r="4.0"/><circle cx="495.3" cy="1594.5" r="4.0"/><circle cx="497" cy="1587.2" r="4.0"/><circle cx="498.7" cy="1580.3" r="4.0"/><circle cx="500.4" cy="1579.5" r="4.0"/><circle cx="502.1" cy="1573.4" r="4.0"/><circle cx="503.8" cy="1575.4" r="4.0"/><circle cx="505.4" cy="1578.2" r="4.0"/><circle cx="507.1" cy="1575.1" r="4.0"/><circle cx="508.8" cy="1580.7" r="4.0"/><circle cx="510.5" cy="1575" r="4.0"/><circle cx="512.2" cy="1573.5" r="4.0"/><circle cx="513.8" cy="1566.8" r="4.0"/><circle cx="515.5" cy="1563.5" r="4.0"/><circle cx="517.2" cy="1566.1" r="4.0"/><circle cx="518.8" cy="1564.2" r="4.0"/><circle cx="520.5" cy="1565.8" r="4.0"/><circle cx="522.1" cy="1558.4" r="4.0"/><circle cx="523.8" cy="1555" r="4.0"/><circle cx="525.4" cy="1552.4" r="4.0"/><circle cx="527.1" cy="1555.2" r="4.0"/><circle cx="528.8" cy="1543.1" r="4.0"/><circle cx="530.4" cy="1544.5" r="4.0"/><circle cx="532.1" cy="1548" r="4.0"/><circle cx="533.7" cy="1548.5" r="4.0"/><circle cx="535.4" cy="1546.8" r="4.0"/><circle cx="537.1" cy="1544.1" r="4.0"/><circle cx="538.7" cy="1543.8" r="4.0"/><circle cx="540.4" cy="1541" r="4.0"/><circle cx="542" cy="1538.8" r="4.0"/><circle cx="543.7" cy="1535.3" r="4.0"/><circle cx="545.3" cy="1534.6" r="4.0"/><circle cx="547" cy="1537.4" r="4.0"/><circle cx="548.8" cy="1530.7" r="4.0"/><circle cx="550.6" cy="1529.9" r="4.0"/><circle cx="552.3" cy="1531.2" r="4.0"/><circle cx="553.9" cy="1523.3" r="4.0"/><circle cx="555.6" cy="1534.6" r="4.0"/><circle cx="557.2" cy="1528.3" r="4.0"/><circle cx="558.9" cy="1540.5" r="4.0"/><circle cx="560.5" cy="1542" r="4.0"/><circle cx="562.2" cy="1542.7" r="4.0"/><circle cx="563.8" cy="1550.6" r="4.0"/><circle cx="565.6" cy="1554.5" r="4.0"/><circle cx="567.4" cy="1563.4" r="4.0"/><circle cx="569.2" cy="1570.9" r="4.0"/><circle cx="571" cy="1575.3" r="4.0"/><circle cx="572.7" cy="1581.3" r="4.0"/><circle cx="574.4" cy="1576.5" r="4.0"/><circle cx="576.1" cy="1586.8" r="4.0"/><circle cx="577.8" cy="1583" r="4.0"/><circle cx="579.5" cy="1602.8" r="4.0"/><circle cx="581.2" cy="1595.6" r="4.0"/><circle cx="582.9" cy="1596.6" r="4.0"/><circle cx="584.6" cy="1602.6" r="4.0"/><circle cx="586.2" cy="1600" r="4.0"/><circle cx="587.9" cy="1604.2" r="4.0"/><circle cx="589.6" cy="1610" r="4.0"/><circle cx="591.2" cy="1609.7" r="4.0"/><circle cx="592.9" cy="1603.1" r="4.0"/><circle cx="594.5" cy="1615.2" r="4.0"/><circle cx="596.2" cy="1617.6" r="4.0"/><circle cx="597.9" cy="1623.1" r="4.0"/><circle cx="599.5" cy="1623.9" r="4.0"/><circle cx="601.2" cy="1632.6" r="4.0"/><circle cx="602.9" cy="1632.1" r="4.0"/><circle cx="604.6" cy="1625.9" r="4.0"/><circle cx="606.3" cy="1635.2" r="4.0"/><circle cx="608" cy="1640.9" r="4.0"/><circle cx="609.7" cy="1643.4" r="4.0"/><circle cx="611.4" cy="1644.7" r="4.0"/><circle cx="613" cy="1653.9" r="4.0"/><circle cx="614.6" cy="1653.1" r="4.0"/><circle cx="616.2" cy="1661.7" r="4.0"/><circle cx="617.8" cy="1669.7" r="4.0"/><circle cx="619.4" cy="1667.9" r="4.0"/><circle cx="621" cy="1686.4" r="4.0"/><circle cx="622.6" cy="1682.3" r="4.0"/><circle cx="624.3" cy="1681.7" r="4.0"/><circle cx="625.9" cy="1688.6" r="4.0"/><circle cx="627.6" cy="1688.2" r="4.0"/><circle cx="629.2" cy="1692.2" r="4.0"/><circle cx="630.9" cy="1694.4" r="4.0"/><circle cx="632.6" cy="1674.3" r="4.0"/><circle cx="634.2" cy="1691" r="4.0"/><circle cx="635.9" cy="1697.4" r="4.0"/><circle cx="637.5" cy="1688.7" r="4.0"/><circle cx="639.2" cy="1700.8" r="4.0"/><circle cx="640.8" cy="1693.2" r="4.0"/><circle cx="642.5" cy="1697.3" r="4.0"/><circle cx="644.2" cy="1688" r="4.0"/><circle cx="646" cy="1709.7" r="4.0"/><circle cx="647.7" cy="1693.6" r="4.0"/><circle cx="649.5" cy="1697.8" r="4.0"/><circle cx="651.2" cy="1706.4" r="4.0"/><circle cx="653" cy="1689.9" r="4.0"/><circle cx="654.7" cy="1703.2" r="4.0"/><circle cx="656.5" cy="1684.7" r="4.0"/><circle cx="658.4" cy="1692.1" r="4.0"/><circle cx="660.3" cy="1690.2" r="4.0"/><circle cx="662.2" cy="1693.7" r="4.0"/><circle cx="664.1" cy="1686.4" r="4.0"/><circle cx="665.8" cy="1700.3" r="4.0"/><circle cx="667.4" cy="1673.8" r="4.0"/><circle cx="669.1" cy="1661.2" r="4.0"/><circle cx="670.7" cy="1643.9" r="4.0"/><circle cx="672.5" cy="1631.9" r="4.0"/><circle cx="674.4" cy="1615.7" r="4.0"/><circle cx="676.2" cy="1607.7" r="4.0"/><circle cx="678" cy="1584.7" r="4.0"/><circle cx="679.8" cy="1571" r="4.0"/><circle cx="681.6" cy="1570.4" r="4.0"/><circle cx="683.4" cy="1561.2" r="4.0"/><circle cx="685.1" cy="1552.5" r="4.0"/><circle cx="686.9" cy="1541.9" r="4.0"/><circle cx="688.7" cy="1533" r="4.0"/><circle cx="690.4" cy="1538.1" r="4.0"/><circle cx="692.2" cy="1529.1" r="4.0"/><circle cx="694" cy="1523.3" r="4.0"/><circle cx="695.8" cy="1515.8" r="4.0"/><circle cx="697.6" cy="1510" r="4.0"/><circle cx="699.4" cy="1495.1" r="4.0"/><circle cx="701.2" cy="1494.1" r="4.0"/><circle cx="703.1" cy="1478.2" r="4.0"/><circle cx="704.9" cy="1475.5" r="4.0"/><circle cx="706.7" cy="1478.2" r="4.0"/><circle cx="708.5" cy="1473.9" r="4.0"/><circle cx="710.3" cy="1468.3" r="4.0"/><circle cx="712.1" cy="1456.9" r="4.0"/><circle cx="713.9" cy="1461.7" r="4.0"/><circle cx="715.7" cy="1460.6" r="4.0"/><circle cx="717.5" cy="1451.5" r="4.0"/><circle cx="719.3" cy="1446.4" r="4.0"/><circle cx="721.1" cy="1446.8" r="4.0"/><circle cx="722.9" cy="1434.7" r="4.0"/><circle cx="724.6" cy="1436.6" r="4.0"/><circle cx="726.4" cy="1432.6" r="4.0"/><circle cx="728.2" cy="1434.4" r="4.0"/><circle cx="730" cy="1428.5" r="4.0"/><circle cx="731.8" cy="1426.2" r="4.0"/><circle cx="733.6" cy="1431.9" r="4.0"/><circle cx="735.4" cy="1420.2" r="4.0"/><circle cx="737.2" cy="1426.3" r="4.0"/><circle cx="739" cy="1417.9" r="4.0"/><circle cx="740.8" cy="1421.6" r="4.0"/><circle cx="742.6" cy="1406.3" r="4.0"/><circle cx="744.4" cy="1410.3" r="4.0"/><circle cx="746.2" cy="1405.3" r="4.0"/><circle cx="748" cy="1399.8" r="4.0"/><circle cx="749.8" cy="1400.3" r="4.0"/><circle cx="751.6" cy="1395.6" r="4.0"/><circle cx="753.4" cy="1381.6" r="4.0"/><circle cx="755.1" cy="1374.3" r="4.0"/><circle cx="757" cy="1383.1" r="4.0"/><circle cx="758.8" cy="1393" r="4.0"/><circle cx="760.7" cy="1405" r="4.0"/><circle cx="762.4" cy="1423.4" r="4.0"/><circle cx="764.2" cy="1425.9" r="4.0"/><circle cx="766" cy="1430.2" r="4.0"/><circle cx="767.8" cy="1455.1" r="4.0"/><circle cx="769.5" cy="1478.1" r="4.0"/><circle cx="771.3" cy="1484.8" r="4.0"/><circle cx="773.1" cy="1493.5" r="4.0"/><circle cx="774.9" cy="1496.1" r="4.0"/><circle cx="776.7" cy="1506.5" r="4.0"/><circle cx="778.5" cy="1509.3" r="4.0"/><circle cx="780.3" cy="1526.3" r="4.0"/><circle cx="782.1" cy="1524.3" r="4.0"/><circle cx="783.9" cy="1531" r="4.0"/><circle cx="785.8" cy="1540.7" r="4.0"/><circle cx="787.5" cy="1558.3" r="4.0"/><circle cx="789.3" cy="1557.6" r="4.0"/><circle cx="791.1" cy="1575.8" r="4.0"/><circle cx="792.8" cy="1569.5" r="4.0"/><circle cx="794.6" cy="1577.4" r="4.0"/><circle cx="796.4" cy="1588.7" r="4.0"/><circle cx="798.2" cy="1595.8" r="4.0"/><circle cx="800" cy="1606.3" r="4.0"/><circle cx="801.8" cy="1599.2" r="4.0"/><circle cx="803.6" cy="1601.9" r="4.0"/><circle cx="805.4" cy="1597" r="4.0"/><circle cx="807.2" cy="1608.6" r="4.0"/><circle cx="809" cy="1599.7" r="4.0"/><circle cx="810.8" cy="1593.6" r="4.0"/><circle cx="812.6" cy="1588" r="4.0"/><circle cx="814.5" cy="1590.2" r="4.0"/><circle cx="816.3" cy="1579.3" r="4.0"/><circle cx="818.1" cy="1596.4" r="4.0"/><circle cx="819.8" cy="1592.9" r="4.0"/><circle cx="821.6" cy="1592.1" r="4.0"/><circle cx="823.4" cy="1599.5" r="4.0"/><circle cx="825.2" cy="1598.9" r="4.0"/><circle cx="827" cy="1611.4" r="4.0"/><circle cx="828.8" cy="1601.5" r="4.0"/><circle cx="830.5" cy="1617.6" r="4.0"/><circle cx="832.3" cy="1609.5" r="4.0"/><circle cx="834.1" cy="1619" r="4.0"/><circle cx="835.9" cy="1609" r="4.0"/><circle cx="837.7" cy="1630.7" r="4.0"/><circle cx="839.5" cy="1617.6" r="4.0"/><circle cx="841.3" cy="1625.1" r="4.0"/><circle cx="843.2" cy="1621" r="4.0"/><circle cx="845" cy="1614.9" r="4.0"/><circle cx="846.8" cy="1632.6" r="4.0"/><circle cx="848.5" cy="1635" r="4.0"/><circle cx="850.3" cy="1633.8" r="4.0"/><circle cx="852.1" cy="1626" r="4.0"/><circle cx="853.9" cy="1642.7" r="4.0"/><circle cx="855.7" cy="1629.8" r="4.0"/><circle cx="857.5" cy="1641.1" r="4.0"/><circle cx="859.2" cy="1641.5" r="4.0"/><circle cx="861" cy="1637.3" r="4.0"/><circle cx="862.6" cy="1633.2" r="4.0"/><circle cx="864.1" cy="1641.9" r="4.0"/><circle cx="865.7" cy="1642.3" r="4.0"/><circle cx="867.2" cy="1640.6" r="4.0"/><circle cx="868.8" cy="1643.7" r="4.0"/><circle cx="870.4" cy="1662.5" r="4.0"/><circle cx="872.1" cy="1648.5" r="4.0"/><circle cx="873.8" cy="1646.1" r="4.0"/><circle cx="875.5" cy="1638.5" r="4.0"/><circle cx="877.3" cy="1625.2" r="4.0"/><circle cx="879.1" cy="1618.5" r="4.0"/><circle cx="880.9" cy="1603.7" r="4.0"/><circle cx="882.7" cy="1588.6" r="4.0"/><circle cx="884.5" cy="1569.7" r="4.0"/><circle cx="886.3" cy="1552.9" r="4.0"/><circle cx="888.1" cy="1536.5" r="4.0"/><circle cx="889.9" cy="1530.1" r="4.0"/><circle cx="891.7" cy="1510.9" r="4.0"/><circle cx="893.5" cy="1494.5" r="4.0"/><circle cx="895.3" cy="1478.2" r="4.0"/><circle cx="897.2" cy="1472.7" r="4.0"/><circle cx="899" cy="1464.1" r="4.0"/><circle cx="900.8" cy="1454" r="4.0"/><circle cx="902.6" cy="1444.4" r="4.0"/><circle cx="904.4" cy="1436.7" r="4.0"/><circle cx="906.1" cy="1419.1" r="4.0"/><circle cx="907.8" cy="1404.5" r="4.0"/><circle cx="909.6" cy="1389.7" r="4.0"/><circle cx="911.4" cy="1374.9" r="4.0"/><circle cx="913.2" cy="1374.3" r="4.0"/><circle cx="915" cy="1366.2" r="4.0"/><circle cx="916.8" cy="1364.8" r="4.0"/><circle cx="918.6" cy="1358.7" r="4.0"/><circle cx="920.4" cy="1349.2" r="4.0"/><circle cx="922.2" cy="1348.8" r="4.0"/><circle cx="924" cy="1350.7" r="4.0"/><circle cx="925.9" cy="1339.7" r="4.0"/><circle cx="927.7" cy="1336.8" r="4.0"/><circle cx="929.5" cy="1335.4" r="4.0"/><circle cx="931.3" cy="1328.6" r="4.0"/><circle cx="933" cy="1317.9" r="4.0"/><circle cx="934.8" cy="1311.3" r="4.0"/><circle cx="936.6" cy="1315.7" r="4.0"/><circle cx="938.4" cy="1306.4" r="4.0"/><circle cx="940.2" cy="1302.3" r="4.0"/><circle cx="941.9" cy="1307.9" r="4.0"/><circle cx="943.7" cy="1300.7" r="4.0"/><circle cx="945.5" cy="1298.4" r="4.0"/><circle cx="947.3" cy="1295.9" r="4.0"/><circle cx="949.1" cy="1300.7" r="4.0"/><circle cx="950.9" cy="1293.6" r="4.0"/><circle cx="952.6" cy="1284.6" r="4.0"/><circle cx="954.5" cy="1268.1" r="4.0"/><circle cx="956.3" cy="1252.6" r="4.0"/><circle cx="958.1" cy="1278.8" r="4.0"/><circle cx="959.9" cy="1297" r="4.0"/><circle cx="961.7" cy="1317.4" r="4.0"/><circle cx="963.6" cy="1338.4" r="4.0"/><circle cx="965.4" cy="1340.5" r="4.0"/><circle cx="967.2" cy="1350.6" r="4.0"/><circle cx="968.9" cy="1351.2" r="4.0"/><circle cx="970.7" cy="1358.1" r="4.0"/><circle cx="972.4" cy="1361.1" r="4.0"/><circle cx="974.3" cy="1393.8" r="4.0"/><circle cx="976.1" cy="1406.2" r="4.0"/><circle cx="977.9" cy="1408" r="4.0"/><circle cx="979.7" cy="1415.6" r="4.0"/><circle cx="981.5" cy="1423.7" r="4.0"/><circle cx="983.3" cy="1426" r="4.0"/><circle cx="985.1" cy="1450.7" r="4.0"/><circle cx="986.9" cy="1469.2" r="4.0"/><circle cx="988.7" cy="1477.4" r="4.0"/><circle cx="990.5" cy="1487.7" r="4.0"/><circle cx="992.3" cy="1489.3" r="4.0"/><circle cx="994.1" cy="1483.7" r="4.0"/><circle cx="995.9" cy="1496.6" r="4.0"/><circle cx="997.6" cy="1495.1" r="4.0"/><circle cx="999.4" cy="1500.9" r="4.0"/><circle cx="1001.2" cy="1500.4" r="4.0"/><circle cx="1003" cy="1493.8" r="4.0"/><circle cx="1004.7" cy="1497.7" r="4.0"/><circle cx="1006.6" cy="1504.7" r="4.0"/><circle cx="1008.4" cy="1503.3" r="4.0"/><circle cx="1010.2" cy="1507.6" r="4.0"/><circle cx="1012" cy="1512" r="4.0"/><circle cx="1013.9" cy="1516.2" r="4.0"/><circle cx="1015.6" cy="1552" r="4.0"/><circle cx="1017.2" cy="1545.5" r="4.0"/><circle cx="1018.9" cy="1545.5" r="4.0"/><circle cx="1020.5" cy="1547.9" r="4.0"/><circle cx="1022.1" cy="1553.9" r="4.0"/><circle cx="1023.8" cy="1563.5" r="4.0"/><circle cx="1025.4" cy="1555" r="4.0"/><circle cx="1027.1" cy="1561.7" r="4.0"/><circle cx="1028.7" cy="1549.1" r="4.0"/><circle cx="1030.4" cy="1551.7" r="4.0"/><circle cx="1032" cy="1550.5" r="4.0"/><circle cx="1033.6" cy="1558.4" r="4.0"/><circle cx="1035.4" cy="1568.1" r="4.0"/><circle cx="1037.2" cy="1546.4" r="4.0"/><circle cx="1038.9" cy="1542.7" r="4.0"/><circle cx="1040.7" cy="1561.4" r="4.0"/><circle cx="1042.5" cy="1555.5" r="4.0"/><circle cx="1044.3" cy="1558.6" r="4.0"/><circle cx="1046.2" cy="1580.7" r="4.0"/><circle cx="1048" cy="1559.5" r="4.0"/><circle cx="1049.8" cy="1572.8" r="4.0"/><circle cx="1051.6" cy="1575.3" r="4.0"/><circle cx="1053.4" cy="1554.8" r="4.0"/><circle cx="1055.1" cy="1559.9" r="4.0"/><circle cx="1056.9" cy="1564.8" r="4.0"/><circle cx="1058.7" cy="1553" r="4.0"/><circle cx="1060.5" cy="1581.4" r="4.0"/><circle cx="1062.3" cy="1569.1" r="4.0"/><circle cx="1064" cy="1596" r="4.0"/><circle cx="1065.9" cy="1588" r="4.0"/><circle cx="1067.7" cy="1592.3" r="4.0"/><circle cx="1069.5" cy="1584.8" r="4.0"/><circle cx="1071.4" cy="1578.5" r="4.0"/><circle cx="1073.2" cy="1585.8" r="4.0"/></g>
<rect x="194.3" y="1059" width="956.7" height="771" fill="none" stroke="#333333" stroke-width="4"/>
<line x1="194.3" y1="1830" x2="194.3" y2="1845" stroke="#333333" stroke-width="3.5"/>
<text x="194.3" y="1892.5" font-size="47" text-anchor="middle" font-weight="bold" fill="#000">0</text>
<line x1="406.9" y1="1830" x2="406.9" y2="1845" stroke="#333333" stroke-width="3.5"/>
<text x="406.9" y="1892.5" font-size="47" text-anchor="middle" font-weight="bold" fill="#000">1000</text>
<line x1="619.5" y1="1830" x2="619.5" y2="1845" stroke="#333333" stroke-width="3.5"/>
<text x="619.5" y="1892.5" font-size="47" text-anchor="middle" font-weight="bold" fill="#000">2000</text>
<line x1="832.1" y1="1830" x2="832.1" y2="1845" stroke="#333333" stroke-width="3.5"/>
<text x="832.1" y="1892.5" font-size="47" text-anchor="middle" font-weight="bold" fill="#000">3000</text>
<line x1="1044.7" y1="1830" x2="1044.7" y2="1845" stroke="#333333" stroke-width="3.5"/>
<text x="1044.7" y="1892.5" font-size="47" text-anchor="middle" font-weight="bold" fill="#000">4000</text>
<line x1="300.6" y1="1830" x2="300.6" y2="1838" stroke="#333333" stroke-width="3.5"/>
<line x1="513.2" y1="1830" x2="513.2" y2="1838" stroke="#333333" stroke-width="3.5"/>
<line x1="725.8" y1="1830" x2="725.8" y2="1838" stroke="#333333" stroke-width="3.5"/>
<line x1="938.4" y1="1830" x2="938.4" y2="1838" stroke="#333333" stroke-width="3.5"/>
<line x1="1151" y1="1830" x2="1151" y2="1838" stroke="#333333" stroke-width="3.5"/>
<line x1="179.3" y1="1830" x2="194.3" y2="1830" stroke="#333333" stroke-width="3.5"/>
<text x="167.8" y="1844" font-size="47" text-anchor="end" font-weight="bold" fill="#000">20</text>
<line x1="179.3" y1="1658.7" x2="194.3" y2="1658.7" stroke="#333333" stroke-width="3.5"/>
<text x="167.8" y="1672.7" font-size="47" text-anchor="end" font-weight="bold" fill="#000">30</text>
<line x1="179.3" y1="1487.3" x2="194.3" y2="1487.3" stroke="#333333" stroke-width="3.5"/>
<text x="167.8" y="1501.3" font-size="47" text-anchor="end" font-weight="bold" fill="#000">40</text>
<line x1="179.3" y1="1316" x2="194.3" y2="1316" stroke="#333333" stroke-width="3.5"/>
<text x="167.8" y="1330" font-size="47" text-anchor="end" font-weight="bold" fill="#000">50</text>
<line x1="179.3" y1="1144.7" x2="194.3" y2="1144.7" stroke="#333333" stroke-width="3.5"/>
<text x="167.8" y="1158.7" font-size="47" text-anchor="end" font-weight="bold" fill="#000">60</text>
<line x1="186.3" y1="1744.3" x2="194.3" y2="1744.3" stroke="#333333" stroke-width="3.5"/>
<line x1="186.3" y1="1573" x2="194.3" y2="1573" stroke="#333333" stroke-width="3.5"/>
<line x1="186.3" y1="1401.7" x2="194.3" y2="1401.7" stroke="#333333" stroke-width="3.5"/>
<line x1="186.3" y1="1230.3" x2="194.3" y2="1230.3" stroke="#333333" stroke-width="3.5"/>
<rect x="194.3" y="1059.0" width="480.5" height="329.3" fill="none" stroke="#333333" stroke-width="2.5"/>
<rect x="1382.3" y="1059" width="955.7" height="770.5" fill="none" stroke="#333333" stroke-width="4"/>
<line x1="1461.9" y1="1829.5" x2="1461.9" y2="1844.5" stroke="#333333" stroke-width="3.5"/>
<text x="1461.9" y="1892" font-size="47" text-anchor="middle" font-weight="bold" fill="#000">0</text>
<line x1="1621.2" y1="1829.5" x2="1621.2" y2="1844.5" stroke="#333333" stroke-width="3.5"/>
<text x="1621.2" y="1892" font-size="47" text-anchor="middle" font-weight="bold" fill="#000">20</text>
<line x1="1780.5" y1="1829.5" x2="1780.5" y2="1844.5" stroke="#333333" stroke-width="3.5"/>
<text x="1780.5" y="1892" font-size="47" text-anchor="middle" font-weight="bold" fill="#000">40</text>
<line x1="1939.8" y1="1829.5" x2="1939.8" y2="1844.5" stroke="#333333" stroke-width="3.5"/>
<text x="1939.8" y="1892" font-size="47" text-anchor="middle" font-weight="bold" fill="#000">60</text>
<line x1="2099.1" y1="1829.5" x2="2099.1" y2="1844.5" stroke="#333333" stroke-width="3.5"/>
<text x="2099.1" y="1892" font-size="47" text-anchor="middle" font-weight="bold" fill="#000">80</text>
<line x1="2258.4" y1="1829.5" x2="2258.4" y2="1844.5" stroke="#333333" stroke-width="3.5"/>
<text x="2258.4" y="1892" font-size="47" text-anchor="middle" font-weight="bold" fill="#000">100</text>
<line x1="1382.3" y1="1829.5" x2="1382.3" y2="1837.5" stroke="#333333" stroke-width="3.5"/>
<line x1="1541.6" y1="1829.5" x2="1541.6" y2="1837.5" stroke="#333333" stroke-width="3.5"/>
<line x1="1700.9" y1="1829.5" x2="1700.9" y2="1837.5" stroke="#333333" stroke-width="3.5"/>
<line x1="1860.2" y1="1829.5" x2="1860.2" y2="1837.5" stroke="#333333" stroke-width="3.5"/>
<line x1="2019.4" y1="1829.5" x2="2019.4" y2="1837.5" stroke="#333333" stroke-width="3.5"/>
<line x1="2178.7" y1="1829.5" x2="2178.7" y2="1837.5" stroke="#333333" stroke-width="3.5"/>
<line x1="2338" y1="1829.5" x2="2338" y2="1837.5" stroke="#333333" stroke-width="3.5"/>
<line x1="1367.3" y1="1829.5" x2="1382.3" y2="1829.5" stroke="#333333" stroke-width="3.5"/>
<text x="1355.8" y="1843.5" font-size="47" text-anchor="end" font-weight="bold" fill="#000">0</text>
<line x1="1367.3" y1="1658.3" x2="1382.3" y2="1658.3" stroke="#333333" stroke-width="3.5"/>
<text x="1355.8" y="1672.3" font-size="47" text-anchor="end" font-weight="bold" fill="#000">4</text>
<line x1="1367.3" y1="1487.1" x2="1382.3" y2="1487.1" stroke="#333333" stroke-width="3.5"/>
<text x="1355.8" y="1501.1" font-size="47" text-anchor="end" font-weight="bold" fill="#000">8</text>
<line x1="1367.3" y1="1315.8" x2="1382.3" y2="1315.8" stroke="#333333" stroke-width="3.5"/>
<text x="1355.8" y="1329.8" font-size="47" text-anchor="end" font-weight="bold" fill="#000">12</text>
<line x1="1367.3" y1="1144.6" x2="1382.3" y2="1144.6" stroke="#333333" stroke-width="3.5"/>
<text x="1355.8" y="1158.6" font-size="47" text-anchor="end" font-weight="bold" fill="#000">16</text>
<line x1="1374.3" y1="1743.9" x2="1382.3" y2="1743.9" stroke="#333333" stroke-width="3.5"/>
<line x1="1374.3" y1="1572.7" x2="1382.3" y2="1572.7" stroke="#333333" stroke-width="3.5"/>
<line x1="1374.3" y1="1401.4" x2="1382.3" y2="1401.4" stroke="#333333" stroke-width="3.5"/>
<line x1="1374.3" y1="1230.2" x2="1382.3" y2="1230.2" stroke="#333333" stroke-width="3.5"/>
<text x="23.9" y="78.5" font-size="72" text-anchor="start" font-weight="bold" fill="#000"><tspan font-weight="normal">(</tspan>a<tspan font-weight="normal">)</tspan></text>
<text x="1209.9" y="78.5" font-size="72" text-anchor="start" font-weight="bold" fill="#000"><tspan font-weight="normal">(</tspan>b<tspan font-weight="normal">)</tspan></text>
<text x="23.4" y="1070.5" font-size="72" text-anchor="start" font-weight="bold" fill="#000"><tspan font-weight="normal">(</tspan>c<tspan font-weight="normal">)</tspan></text>
<text x="1210.9" y="1072.5" font-size="72" text-anchor="start" font-weight="bold" fill="#000"><tspan font-weight="normal">(</tspan>d<tspan font-weight="normal">)</tspan></text>
<line x1="224.7" y1="125.6" x2="333" y2="125.6" stroke="#ff8646" stroke-width="4"/>
<rect x="274" y="120.6" width="10" height="10" fill="#ff7330"/>
<text x="345.6" y="144" font-size="47" text-anchor="start" font-weight="bold" fill="#000">MXene/NiO-P2</text>
<text x="233.2" y="231.4" font-size="47" font-weight="bold" fill="#000">T=25<tspan font-weight="normal">°C</tspan></text>
<text x="952.8" y="142" font-size="47" text-anchor="start" font-weight="bold" fill="#000">100ppm</text>
<text x="800" y="288.3" font-size="47" text-anchor="start" font-weight="bold" fill="#000">80ppm</text>
<text x="621.3" y="380.4" font-size="47" text-anchor="start" font-weight="bold" fill="#000">50ppm</text>
<text x="464.2" y="603.6" font-size="47" text-anchor="start" font-weight="bold" fill="#000">30ppm</text>
<text x="305.1" y="694" font-size="47" text-anchor="start" font-weight="bold" fill="#000">10ppm</text>
<text x="684" y="989" font-size="50.5" text-anchor="middle" font-weight="bold" fill="#000">Time <tspan font-weight="normal">(</tspan>s<tspan font-weight="normal">)</tspan></text>
<text x="90.4" y="459.5" font-size="50.5" text-anchor="middle" font-weight="bold" fill="#000" transform="rotate(-90 90.4 459.5)">Resistance <tspan font-weight="normal">(</tspan>M<tspan font-weight="normal">Ω</tspan><tspan font-weight="normal">)</tspan></text>
<line x1="1415" y1="128.6" x2="1525.7" y2="128.6" stroke="#ffcf74" stroke-width="4"/>
<circle cx="1470" cy="128.6" r="5.5" fill="#ffc45c"/>
<text x="1536.9" y="144.8" font-size="47" text-anchor="start" font-weight="bold" fill="#000">MXene/NiO-P1</text>
<line x1="1415" y1="188.6" x2="1525.7" y2="188.6" stroke="#ff8646" stroke-width="4"/>
<rect x="1465" y="183.6" width="10" height="10" fill="#ff7330"/>
<text x="1536.9" y="204.8" font-size="47" text-anchor="start" font-weight="bold" fill="#000">MXene/NiO-P2</text>
<line x1="1415" y1="247.6" x2="1525.7" y2="247.6" stroke="#5dbbe0" stroke-width="4"/>
<path d="M1470 240.6L1476 251.6L1464 251.6Z" fill="#52b4dc"/>
<text x="1536.9" y="263.8" font-size="47" text-anchor="start" font-weight="bold" fill="#000">MXene/NiO-P3</text>
<text x="1415.5" y="341.9" font-size="47" font-weight="bold" fill="#000">T=25<tspan font-weight="normal">°C</tspan></text>
<text x="2081.7" y="168" font-size="47" text-anchor="start" font-weight="bold" fill="#000">100ppm</text>
<text x="1926.7" y="297.7" font-size="47" text-anchor="start" font-weight="bold" fill="#000">80ppm</text>
<text x="1746.3" y="394" font-size="47" text-anchor="start" font-weight="bold" fill="#000">50ppm</text>
<text x="1589.4" y="618.3" font-size="47" text-anchor="start" font-weight="bold" fill="#000">30ppm</text>
<text x="1436.3" y="701.7" font-size="47" text-anchor="start" font-weight="bold" fill="#000">10ppm</text>
<text x="1863.5" y="989" font-size="50.5" text-anchor="middle" font-weight="bold" fill="#000">Time <tspan font-weight="normal">(</tspan>s<tspan font-weight="normal">)</tspan></text>
<text x="1282.5" y="459" font-size="51" font-weight="bold" text-anchor="middle" fill="#000" transform="rotate(-90 1282.5 459)">Response<tspan font-weight="normal">(</tspan>R<tspan font-size="33" dy="14">g</tspan><tspan dy="-14">/R</tspan><tspan font-size="33" dy="14">a</tspan><tspan dy="-14" font-weight="normal">)</tspan></text>
<text x="932.2" y="1119" font-size="47" font-weight="bold" fill="#000">T=25<tspan font-weight="normal">°C</tspan></text>
<text x="890.7" y="1223.6" font-size="47" text-anchor="start" font-weight="bold" fill="#000">8ppm</text>
<text x="699.4" y="1344" font-size="47" text-anchor="start" font-weight="bold" fill="#000">4ppm</text>
<text x="495.8" y="1501.4" font-size="47" text-anchor="start" font-weight="bold" fill="#000">2ppm</text>
<text x="296.3" y="1589.5" font-size="47" text-anchor="start" font-weight="bold" fill="#000">1ppm</text>
<text x="672.4" y="1971.5" font-size="50.5" text-anchor="middle" font-weight="bold" fill="#000">Time <tspan font-weight="normal">(</tspan>s<tspan font-weight="normal">)</tspan></text>
<text x="101" y="1444.4" font-size="50.5" text-anchor="middle" font-weight="bold" fill="#000" transform="rotate(-90 101 1444.4)">Resistance <tspan font-weight="normal">(</tspan>M<tspan font-weight="normal">Ω</tspan><tspan font-weight="normal">)</tspan></text>
<text x="229.3" y="1107" font-size="38" text-anchor="start" font-weight="bold" fill="#222">Tres=279s</text>
<text x="437.6" y="1376.2" font-size="38" text-anchor="start" font-weight="bold" fill="#222">Trec=346s</text>
<text x="541.1" y="1127.4" font-size="47" text-anchor="start" font-weight="bold" fill="#1a1410">2ppm</text>
<line x1="236.4" y1="1131" x2="258.4" y2="1131" stroke="#222" stroke-width="3"/>
<path d="M267.4 1131L255.4 1125.5L255.4 1136.5Z" fill="#111"/>
<line x1="393" y1="1127.4" x2="413.8" y2="1127.4" stroke="#222" stroke-width="3"/>
<path d="M384 1127.4L396 1121.9L396 1132.9Z" fill="#111"/>
<line x1="418.6" y1="1328.6" x2="440.5" y2="1328.6" stroke="#222" stroke-width="3"/>
<path d="M449.5 1328.6L437.5 1323.1L437.5 1334.1Z" fill="#111"/>
<line x1="609.7" y1="1328.6" x2="630.5" y2="1328.6" stroke="#222" stroke-width="3"/>
<path d="M600.7 1328.6L612.7 1323.1L612.7 1334.1Z" fill="#111"/>
<line x1="240.7" y1="1388.3" x2="240.7" y2="1394.3" stroke="#333333" stroke-width="2.5"/>
<text x="240.7" y="1419" font-size="21" text-anchor="middle" font-weight="bold" fill="#222">1200</text>
<line x1="327.5" y1="1388.3" x2="327.5" y2="1394.3" stroke="#333333" stroke-width="2.5"/>
<text x="327.5" y="1419" font-size="21" text-anchor="middle" font-weight="bold" fill="#222">1400</text>
<line x1="414.3" y1="1388.3" x2="414.3" y2="1394.3" stroke="#333333" stroke-width="2.5"/>
<text x="414.3" y="1419" font-size="21" text-anchor="middle" font-weight="bold" fill="#222">1600</text>
<line x1="501.1" y1="1388.3" x2="501.1" y2="1394.3" stroke="#333333" stroke-width="2.5"/>
<text x="501.1" y="1419" font-size="21" text-anchor="middle" font-weight="bold" fill="#222">1800</text>
<line x1="588" y1="1388.3" x2="588" y2="1394.3" stroke="#333333" stroke-width="2.5"/>
<text x="588" y="1419" font-size="21" text-anchor="middle" font-weight="bold" fill="#222">2000</text>
<line x1="674.8" y1="1388.3" x2="674.8" y2="1394.3" stroke="#333333" stroke-width="2.5"/>
<text x="674.8" y="1419" font-size="21" text-anchor="middle" font-weight="bold" fill="#222">2200</text>
<line x1="284.1" y1="1388.3" x2="284.1" y2="1391.8" stroke="#333333" stroke-width="2.5"/>
<line x1="370.9" y1="1388.3" x2="370.9" y2="1391.8" stroke="#333333" stroke-width="2.5"/>
<line x1="457.7" y1="1388.3" x2="457.7" y2="1391.8" stroke="#333333" stroke-width="2.5"/>
<line x1="544.6" y1="1388.3" x2="544.6" y2="1391.8" stroke="#333333" stroke-width="2.5"/>
<line x1="631.4" y1="1388.3" x2="631.4" y2="1391.8" stroke="#333333" stroke-width="2.5"/>
<text x="431.7" y="1446.5" font-size="28" text-anchor="middle" font-weight="bold" fill="#222">Time <tspan font-weight="normal">(</tspan>s<tspan font-weight="normal">)</tspan></text>
<polyline points="265.7,1340.5 268.9,1332.9 272.1,1329.1 275.3,1323 278.5,1313.3 281.7,1306.4 284.9,1298.4 288.1,1285.1 291.3,1277.8 294.5,1266 297.7,1261.4 300.9,1259.9 304.1,1253.6 307.3,1242.9 310.5,1235.6 313.7,1229.1 316.9,1227.1 320.1,1221.7 323.3,1217.1 326.5,1211.3 329.7,1212.6 332.9,1207.3 336.1,1203.3 339.3,1203.1 342.5,1196.2 345.7,1190.2 348.9,1188.6 352.1,1183.5 355.3,1185.8 358.5,1181.4 361.7,1178.3 364.9,1176.5 368.1,1168.3 371.3,1167.2 374.5,1161.2 377.7,1160.9 380.9,1157.9 384.1,1159.3 387.3,1157.5 390.5,1152.1 393.7,1151.4 396.9,1147.5 400.1,1148 403.3,1145.7 406.5,1143.9 409.7,1143.3 412.9,1145.9 416.1,1147.2 419.3,1142.9 422.5,1140.2 425.7,1142 428.9,1138.3 432.1,1137.4 435.3,1137 438.5,1135.8 441.7,1133.3 444.9,1128.1 448.1,1127.1 451.3,1127.8 454.5,1131.4 457.7,1133.9 460.9,1142.4 464.1,1154.5 467.3,1155.6 470.5,1151.2 473.7,1149.1 476.9,1167.5 480.1,1176.1 483.3,1175.5 486.5,1172.7 489.7,1181.4 492.9,1187.2 496.1,1196 499.3,1206.2 502.5,1208.1 505.7,1206.9 508.9,1209 512.1,1211.2 515.3,1213.1 518.5,1214.1 521.7,1220.7 524.9,1223.9 528.1,1225.6 531.3,1226.1 534.5,1229.5 537.7,1231.4 540.9,1234.2 544.1,1237.2 547.3,1237 550.5,1235.3 553.7,1234.6 556.9,1234.7 560.1,1239.3 563.3,1244.9 566.5,1249.7 569.7,1257 572.9,1266.6 576.1,1270.7 579.3,1272.2 582.5,1275.2 585.7,1277.8 588.9,1282.8 592.1,1286.5 595.3,1288 598.5,1294.7 601.7,1298.3 604.9,1306.7 608.1,1310.5 611.3,1314.3 614.5,1311.3 617.7,1311.5 620.9,1312.8 624.1,1314.4 627.3,1314.3 630.5,1312.3" fill="none" stroke="#5f86bb" stroke-width="2" stroke-linejoin="round"/>
<g fill="none" stroke="#5a82b8" stroke-width="1.2"><circle cx="265.7" cy="1340.5" r="1.8"/><circle cx="272.1" cy="1329.1" r="1.8"/><circle cx="278.5" cy="1313.3" r="1.8"/><circle cx="284.9" cy="1298.4" r="1.8"/><circle cx="291.3" cy="1277.8" r="1.8"/><circle cx="297.7" cy="1261.4" r="1.8"/><circle cx="304.1" cy="1253.6" r="1.8"/><circle cx="310.5" cy="1235.6" r="1.8"/><circle cx="316.9" cy="1227.1" r="1.8"/><circle cx="323.3" cy="1217.1" r="1.8"/><circle cx="329.7" cy="1212.6" r="1.8"/><circle cx="336.1" cy="1203.3" r="1.8"/><circle cx="342.5" cy="1196.2" r="1.8"/><circle cx="348.9" cy="1188.6" r="1.8"/><circle cx="355.3" cy="1185.8" r="1.8"/><circle cx="361.7" cy="1178.3" r="1.8"/><circle cx="368.1" cy="1168.3" r="1.8"/><circle cx="374.5" cy="1161.2" r="1.8"/><circle cx="380.9" cy="1157.9" r="1.8"/><circle cx="387.3" cy="1157.5" r="1.8"/><circle cx="393.7" cy="1151.4" r="1.8"/><circle cx="400.1" cy="1148" r="1.8"/><circle cx="406.5" cy="1143.9" r="1.8"/><circle cx="412.9" cy="1145.9" r="1.8"/><circle cx="419.3" cy="1142.9" r="1.8"/><circle cx="425.7" cy="1142" r="1.8"/><circle cx="432.1" cy="1137.4" r="1.8"/><circle cx="438.5" cy="1135.8" r="1.8"/><circle cx="444.9" cy="1128.1" r="1.8"/><circle cx="451.3" cy="1127.8" r="1.8"/><circle cx="457.7" cy="1133.9" r="1.8"/><circle cx="464.1" cy="1154.5" r="1.8"/><circle cx="470.5" cy="1151.2" r="1.8"/><circle cx="476.9" cy="1167.5" r="1.8"/><circle cx="483.3" cy="1175.5" r="1.8"/><circle cx="489.7" cy="1181.4" r="1.8"/><circle cx="496.1" cy="1196" r="1.8"/><circle cx="502.5" cy="1208.1" r="1.8"/><circle cx="508.9" cy="1209" r="1.8"/><circle cx="515.3" cy="1213.1" r="1.8"/><circle cx="521.7" cy="1220.7" r="1.8"/><circle cx="528.1" cy="1225.6" r="1.8"/><circle cx="534.5" cy="1229.5" r="1.8"/><circle cx="540.9" cy="1234.2" r="1.8"/><circle cx="547.3" cy="1237" r="1.8"/><circle cx="553.7" cy="1234.6" r="1.8"/><circle cx="560.1" cy="1239.3" r="1.8"/><circle cx="566.5" cy="1249.7" r="1.8"/><circle cx="572.9" cy="1266.6" r="1.8"/><circle cx="579.3" cy="1272.2" r="1.8"/><circle cx="585.7" cy="1277.8" r="1.8"/><circle cx="592.1" cy="1286.5" r="1.8"/><circle cx="598.5" cy="1294.7" r="1.8"/><circle cx="604.9" cy="1306.7" r="1.8"/><circle cx="611.3" cy="1314.3" r="1.8"/><circle cx="617.7" cy="1311.5" r="1.8"/><circle cx="624.1" cy="1314.4" r="1.8"/><circle cx="630.5" cy="1312.3" r="1.8"/></g>
<line x1="1469.9" y1="1773.9" x2="1469.9" y2="1780.7" stroke="#ff7535" stroke-width="3.5"/>
<line x1="1462.4" y1="1773.9" x2="1477.4" y2="1773.9" stroke="#ff7535" stroke-width="3.5"/>
<line x1="1462.4" y1="1780.7" x2="1477.4" y2="1780.7" stroke="#ff7535" stroke-width="3.5"/>
<line x1="1477.9" y1="1763.2" x2="1477.9" y2="1771.7" stroke="#ff7535" stroke-width="3.5"/>
<line x1="1470.4" y1="1763.2" x2="1485.4" y2="1763.2" stroke="#ff7535" stroke-width="3.5"/>
<line x1="1470.4" y1="1771.7" x2="1485.4" y2="1771.7" stroke="#ff7535" stroke-width="3.5"/>
<line x1="1493.8" y1="1748.2" x2="1493.8" y2="1756.7" stroke="#ff7535" stroke-width="3.5"/>
<line x1="1486.3" y1="1748.2" x2="1501.3" y2="1748.2" stroke="#ff7535" stroke-width="3.5"/>
<line x1="1486.3" y1="1756.7" x2="1501.3" y2="1756.7" stroke="#ff7535" stroke-width="3.5"/>
<line x1="1525.7" y1="1736.6" x2="1525.7" y2="1745.2" stroke="#ff7535" stroke-width="3.5"/>
<line x1="1518.2" y1="1736.6" x2="1533.2" y2="1736.6" stroke="#ff7535" stroke-width="3.5"/>
<line x1="1518.2" y1="1745.2" x2="1533.2" y2="1745.2" stroke="#ff7535" stroke-width="3.5"/>
<line x1="1541.6" y1="1708.4" x2="1541.6" y2="1745.2" stroke="#ff7535" stroke-width="3.5"/>
<line x1="1534.1" y1="1708.4" x2="1549.1" y2="1708.4" stroke="#ff7535" stroke-width="3.5"/>
<line x1="1534.1" y1="1745.2" x2="1549.1" y2="1745.2" stroke="#ff7535" stroke-width="3.5"/>
<line x1="1700.9" y1="1597.5" x2="1700.9" y2="1659.1" stroke="#ff7535" stroke-width="3.5"/>
<line x1="1693.4" y1="1597.5" x2="1708.4" y2="1597.5" stroke="#ff7535" stroke-width="3.5"/>
<line x1="1693.4" y1="1659.1" x2="1708.4" y2="1659.1" stroke="#ff7535" stroke-width="3.5"/>
<line x1="1860.2" y1="1455" x2="1860.2" y2="1496" stroke="#ff7535" stroke-width="3.5"/>
<line x1="1852.7" y1="1455" x2="1867.7" y2="1455" stroke="#ff7535" stroke-width="3.5"/>
<line x1="1852.7" y1="1496" x2="1867.7" y2="1496" stroke="#ff7535" stroke-width="3.5"/>
<line x1="2099.1" y1="1338.9" x2="2099.1" y2="1421.1" stroke="#ff7535" stroke-width="3.5"/>
<line x1="2091.6" y1="1338.9" x2="2106.6" y2="1338.9" stroke="#ff7535" stroke-width="3.5"/>
<line x1="2091.6" y1="1421.1" x2="2106.6" y2="1421.1" stroke="#ff7535" stroke-width="3.5"/>
<line x1="2258.4" y1="1179.7" x2="2258.4" y2="1301.3" stroke="#ff7535" stroke-width="3.5"/>
<line x1="2250.9" y1="1179.7" x2="2265.9" y2="1179.7" stroke="#ff7535" stroke-width="3.5"/>
<line x1="2250.9" y1="1301.3" x2="2265.9" y2="1301.3" stroke="#ff7535" stroke-width="3.5"/>
<circle cx="1469.9" cy="1777.3" r="8.5" fill="#ff7535"/><circle cx="1467.6" cy="1774.7" r="2.8" fill="#ffc8ac"/>
<circle cx="1477.9" cy="1767.4" r="8.5" fill="#ff7535"/><circle cx="1475.6" cy="1764.8" r="2.8" fill="#ffc8ac"/>
<circle cx="1493.8" cy="1752.5" r="8.5" fill="#ff7535"/><circle cx="1491.5" cy="1749.9" r="2.8" fill="#ffc8ac"/>
<circle cx="1525.7" cy="1740.9" r="8.5" fill="#ff7535"/><circle cx="1523.4" cy="1738.3" r="2.8" fill="#ffc8ac"/>
<circle cx="1541.6" cy="1726.8" r="8.5" fill="#ff7535"/><circle cx="1539.3" cy="1724.2" r="2.8" fill="#ffc8ac"/>
<circle cx="1700.9" cy="1628.3" r="8.5" fill="#ff7535"/><circle cx="1698.6" cy="1625.7" r="2.8" fill="#ffc8ac"/>
<circle cx="1860.2" cy="1475.5" r="8.5" fill="#ff7535"/><circle cx="1857.9" cy="1472.9" r="2.8" fill="#ffc8ac"/>
<circle cx="2099.1" cy="1380" r="8.5" fill="#ff7535"/><circle cx="2096.8" cy="1377.4" r="2.8" fill="#ffc8ac"/>
<circle cx="2258.4" cy="1240.5" r="8.5" fill="#ff7535"/><circle cx="2256.1" cy="1237.9" r="2.8" fill="#ffc8ac"/>
<line x1="1469.9" y1="1772.6" x2="2258.4" y2="1263.6" stroke="#2262b0" stroke-width="3"/>
<circle cx="1479.5" cy="1139" r="8.5" fill="#ff7535"/><circle cx="1477.2" cy="1136.4" r="2.8" fill="#ffc8ac"/>
<line x1="1425.5" y1="1198.2" x2="1535.7" y2="1198.2" stroke="#2262b0" stroke-width="3.5"/>
<text x="1546.9" y="1155.7" font-size="47" text-anchor="start" font-weight="bold" fill="#000">Response</text>
<text x="1546.9" y="1214.3" font-size="47" text-anchor="start" font-weight="bold" fill="#000">Linear fitting curve</text>
<text x="1925.4" y="1688.9" font-size="47" text-anchor="start" font-weight="bold" fill="#000">Y=0.1201X+1.2102</text>
<text x="1925.6" y="1754.3" font-size="47" font-weight="bold" fill="#000">R<tspan font-size="30" dy="-20">2</tspan><tspan dy="20">=0.9753</tspan></text>
<text x="1860.8" y="1971.5" font-size="50.5" text-anchor="middle" font-weight="bold" fill="#000">Concentration<tspan font-weight="normal">(</tspan>ppm<tspan font-weight="normal">)</tspan></text>
<text x="1280" y="1444.5" font-size="51" font-weight="bold" text-anchor="middle" fill="#000" transform="rotate(-90 1280 1444.5)">Response<tspan font-weight="normal">(</tspan>R<tspan font-size="33" dy="14">g</tspan><tspan dy="-14">/R</tspan><tspan font-size="33" dy="14">a</tspan><tspan dy="-14" font-weight="normal">)</tspan></text>
</g>
</svg></body></html>
